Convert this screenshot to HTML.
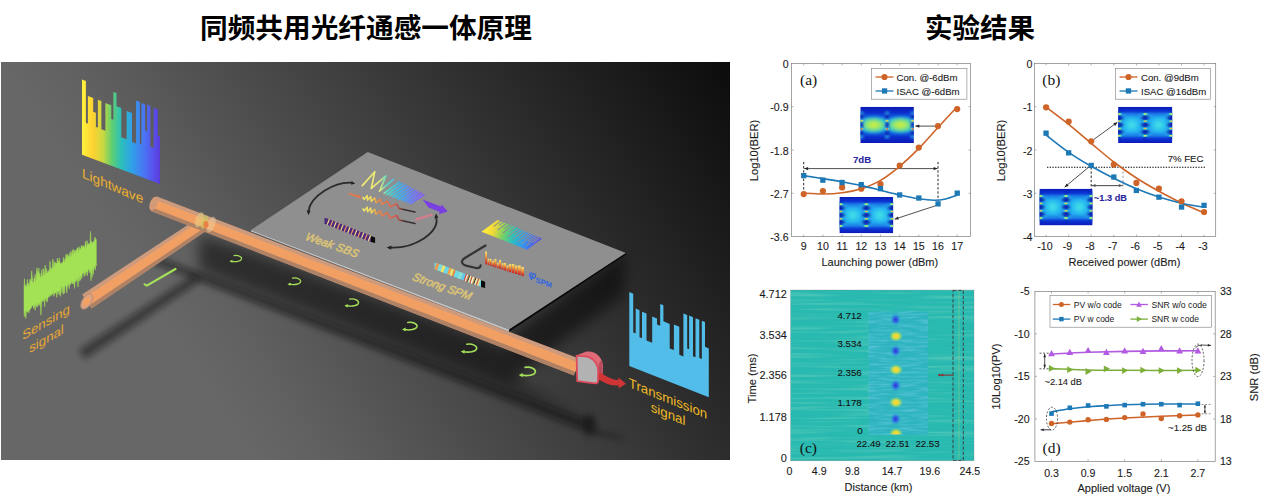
<!DOCTYPE html>
<html><head><meta charset="utf-8"><title>figure</title>
<style>
html,body{margin:0;padding:0;background:#fff;}
body{width:1268px;height:503px;overflow:hidden;position:relative;font-family:"Liberation Sans",sans-serif;}
svg{display:block;position:absolute;left:0;top:0;}
text{font-family:"Liberation Sans",sans-serif;}
.ser{font-family:"Liberation Serif",serif;}
</style></head><body>
<svg width="1268" height="503" viewBox="0 0 1268 503">
<defs>
<clipPath id="clipL"><rect x="1" y="62" width="729" height="398"/></clipPath>
<linearGradient id="bgH" gradientUnits="userSpaceOnUse" x1="110.5" y1="231.5" x2="640.7" y2="-102.6">
<stop offset="0" stop-color="#676767"/><stop offset="0.1" stop-color="#606060"/><stop offset="1" stop-color="#0a0a0a"/></linearGradient>
<linearGradient id="bgV" gradientUnits="userSpaceOnUse" x1="0" y1="62" x2="0" y2="459">
<stop offset="0" stop-color="#000" stop-opacity="0"/><stop offset="0.6" stop-color="#000" stop-opacity="0"/><stop offset="1" stop-color="#000" stop-opacity="0.22"/></linearGradient>
<filter id="blur3" x="-20%" y="-20%" width="140%" height="140%"><feGaussianBlur stdDeviation="3"/></filter>
<filter id="blur5" x="-20%" y="-20%" width="140%" height="140%"><feGaussianBlur stdDeviation="5"/></filter>
<filter id="blur1" x="-20%" y="-20%" width="140%" height="140%"><feGaussianBlur stdDeviation="0.6"/></filter>
<filter id="blur08"><feGaussianBlur stdDeviation="0.4"/></filter>
<linearGradient id="rain" x1="0" y1="0" x2="1" y2="0">
<stop offset="0" stop-color="#fff040"/><stop offset="0.12" stop-color="#ffd030"/><stop offset="0.3" stop-color="#a8d848"/><stop offset="0.42" stop-color="#48d088"/><stop offset="0.55" stop-color="#28b8d0"/><stop offset="0.72" stop-color="#3890f0"/><stop offset="0.88" stop-color="#5060f0"/><stop offset="1" stop-color="#5838d8"/></linearGradient>
<filter id="blur7" x="-20%" y="-30%" width="140%" height="160%"><feGaussianBlur stdDeviation="7"/></filter>
<linearGradient id="chirpG" gradientUnits="userSpaceOnUse" x1="360" y1="0" x2="424" y2="0"><stop offset="0" stop-color="#f4ea70"/><stop offset="0.3" stop-color="#e8e878"/><stop offset="0.42" stop-color="#58d8c8"/><stop offset="0.62" stop-color="#40b0e8"/><stop offset="0.8" stop-color="#6a80f0"/><stop offset="1" stop-color="#8a60e8"/></linearGradient>
<linearGradient id="sm" gradientUnits="userSpaceOnUse" x1="362" y1="0" x2="416" y2="0"><stop offset="0" stop-color="#f4ec70"/><stop offset="0.18" stop-color="#efd858"/><stop offset="0.3" stop-color="#e88848"/><stop offset="0.62" stop-color="#dc5848"/><stop offset="0.7" stop-color="#a04440"/><stop offset="0.78" stop-color="#3a3030"/><stop offset="1" stop-color="#3a3030"/></linearGradient>
<linearGradient id="rainS" gradientUnits="userSpaceOnUse" x1="483" y1="228" x2="541" y2="247"><stop offset="0" stop-color="#fff23c"/><stop offset="0.18" stop-color="#f0d838"/><stop offset="0.36" stop-color="#70d068"/><stop offset="0.52" stop-color="#2cc0c0"/><stop offset="0.7" stop-color="#3498ee"/><stop offset="0.88" stop-color="#5060ee"/><stop offset="1" stop-color="#5a40d8"/></linearGradient>
<linearGradient id="fire" x1="0" y1="0" x2="0" y2="1"><stop offset="0" stop-color="#fae670"/><stop offset="0.35" stop-color="#f4a840"/><stop offset="0.7" stop-color="#e0502c"/><stop offset="1" stop-color="#c02820"/></linearGradient>
<linearGradient id="rainA" gradientUnits="userSpaceOnUse" x1="82" y1="0" x2="160" y2="0"><stop offset="0" stop-color="#fff23c"/><stop offset="0.14" stop-color="#ffd232"/><stop offset="0.27" stop-color="#c8d840"/><stop offset="0.38" stop-color="#62d070"/><stop offset="0.5" stop-color="#2cc0b8"/><stop offset="0.64" stop-color="#30a0e8"/><stop offset="0.8" stop-color="#4a74f4"/><stop offset="0.92" stop-color="#5850ec"/><stop offset="1" stop-color="#5a3cd8"/></linearGradient>
<filter id="eb" x="-5%" y="-5%" width="110%" height="110%"><feGaussianBlur stdDeviation="1.1"/></filter>
<radialGradient id="eyeC"><stop offset="0" stop-color="#48e4e4" stop-opacity="1"/><stop offset="0.55" stop-color="#28c0f0" stop-opacity="0.8"/><stop offset="1" stop-color="#1c90f0" stop-opacity="0"/></radialGradient>
<radialGradient id="eyeN"><stop offset="0" stop-color="#d8f040" stop-opacity="1"/><stop offset="0.45" stop-color="#60e0a0" stop-opacity="0.95"/><stop offset="0.8" stop-color="#20c0e0" stop-opacity="0.8"/><stop offset="1" stop-color="#1890e8" stop-opacity="0"/></radialGradient>
<linearGradient id="eyeBg" x1="0" y1="0" x2="0" y2="1"><stop offset="0" stop-color="#0a1ab6"/><stop offset="0.12" stop-color="#0c34d4"/><stop offset="0.3" stop-color="#1470ea"/><stop offset="0.5" stop-color="#1c90f0"/><stop offset="0.7" stop-color="#1470ea"/><stop offset="0.88" stop-color="#0c34d4"/><stop offset="1" stop-color="#0a1ab6"/></linearGradient>
<linearGradient id="eyeBgN" x1="0" y1="0" x2="0" y2="1"><stop offset="0" stop-color="#0a1cb8"/><stop offset="0.22" stop-color="#0c48e0"/><stop offset="0.38" stop-color="#20b0e0"/><stop offset="0.5" stop-color="#38d0c8"/><stop offset="0.62" stop-color="#20b0e0"/><stop offset="0.78" stop-color="#0c48e0"/><stop offset="1" stop-color="#0a1cb8"/></linearGradient>
<linearGradient id="eyeBgN2" x1="0" y1="0" x2="0" y2="1"><stop offset="0" stop-color="#0a1ab4"/><stop offset="0.16" stop-color="#0b2ccc"/><stop offset="0.3" stop-color="#1268e4"/><stop offset="0.4" stop-color="#22b4e0"/><stop offset="0.5" stop-color="#58dcb0"/><stop offset="0.6" stop-color="#22b4e0"/><stop offset="0.7" stop-color="#1268e4"/><stop offset="0.84" stop-color="#0b2ccc"/><stop offset="1" stop-color="#0a1ab4"/></linearGradient>
<radialGradient id="eyeN2"><stop offset="0" stop-color="#d4ee3c"/><stop offset="0.4" stop-color="#9ce868" stop-opacity="0.95"/><stop offset="0.75" stop-color="#48d8b8" stop-opacity="0.7"/><stop offset="1" stop-color="#28b8e0" stop-opacity="0"/></radialGradient>
<clipPath id="ec1"><rect x="860.3" y="106.8" width="53.6" height="36.3"/></clipPath>
<clipPath id="ec2"><rect x="839.4" y="197" width="53.8" height="36.3"/></clipPath>
<clipPath id="ec3"><rect x="1118.1" y="106.8" width="54.2" height="36.3"/></clipPath>
<clipPath id="ec4"><rect x="1039.4" y="188.7" width="53.2" height="36.7"/></clipPath>
<filter id="streak" x="0" y="0" width="100%" height="100%"><feTurbulence type="fractalNoise" baseFrequency="0.012 0.35" numOctaves="2" seed="4" result="n"/><feColorMatrix in="n" type="matrix" values="0 0 0 0 0.42  0 0 0 0 0.80  0 0 0 0 0.62  0.75 0 0 0 -0.35"/></filter>
<filter id="wav" x="0" y="0" width="100%" height="100%"><feTurbulence type="fractalNoise" baseFrequency="0.05 0.5" numOctaves="2" seed="9" result="n"/><feColorMatrix in="n" type="matrix" values="0 0 0 0 0.2  0 0 0 0 0.62  0 0 0 0 0.86  1.4 0 0 0 -0.55"/></filter>
<radialGradient id="blobB"><stop offset="0" stop-color="#3a30d0"/><stop offset="0.4" stop-color="#2c60e8" stop-opacity="0.9"/><stop offset="1" stop-color="#2ea0d8" stop-opacity="0"/></radialGradient>
<radialGradient id="blobY"><stop offset="0" stop-color="#fcd030"/><stop offset="0.35" stop-color="#f0e038" stop-opacity="0.95"/><stop offset="0.7" stop-color="#b0dc58" stop-opacity="0.6"/><stop offset="1" stop-color="#70d090" stop-opacity="0"/></radialGradient>
<clipPath id="insC"><rect x="868.9" y="311.6" width="59.1" height="123"/></clipPath>
</defs>
<text x="200" y="38" font-size="27.5" font-weight="bold" fill="#000" textLength="332" lengthAdjust="spacingAndGlyphs" style="font-family:'Liberation Sans','Noto Sans CJK SC',sans-serif;">同频共用光纤通感一体原理</text>
<text x="925" y="38" font-size="27.5" font-weight="bold" fill="#000" textLength="110" lengthAdjust="spacingAndGlyphs" style="font-family:'Liberation Sans','Noto Sans CJK SC',sans-serif;">实验结果</text>
<g clip-path="url(#clipL)">
<rect x="0" y="60" width="732" height="401" fill="url(#bgH)"/>
<g filter="url(#blur7)" opacity="0.5">
<polygon points="199,235.1 251,251.2 509.2,349 515.2,331.6 626,253 623,295 513.2,379.6 588,420 199,271.1" fill="#000"/>
</g>
<g filter="url(#blur3)" opacity="0.55">
<polygon points="148.3,260.9 581.2,428.9 584.8,419.5 150.9,254.3" fill="#0c0c0c"/>
</g>
<g filter="url(#blur3)" opacity="0.5">
<polygon points="195.1,273.7 78.8,349.9 84.8,359.1 200.1,281.2" fill="#0c0c0c"/>
<ellipse cx="589" cy="425" rx="7" ry="10.5" fill="#000"/>
<ellipse cx="589" cy="425" rx="6" ry="9" fill="#000"/>
<ellipse cx="589" cy="425" rx="4.5" ry="7" fill="#000"/>
<polygon points="590,429 624,437.5 624,439.5 590,433" fill="#000"/>
</g>
<path d="M175.5,269 L146.8,285.6 l-2.2,-1.2" fill="none" stroke="#a6e05a" stroke-width="2.2" stroke-linecap="round" stroke-linejoin="round"/>
<g transform="translate(235.5,258.7) scale(0.7)"><path d="M-2,-4.4 C4,-5.4 9.5,-2.6 8.6,0.6 C7.6,3.8 0.5,4.8 -6,3.7" fill="none" stroke="#a6e05a" stroke-width="1.7" stroke-linecap="round"/><path d="M-8.6,3.6 L-4.4,1.5 L-4.6,5.8 Z" fill="#a6e05a"/></g>
<g transform="translate(294,281.4) scale(0.76)"><path d="M-2,-4.4 C4,-5.4 9.5,-2.6 8.6,0.6 C7.6,3.8 0.5,4.8 -6,3.7" fill="none" stroke="#a6e05a" stroke-width="1.7" stroke-linecap="round"/><path d="M-8.6,3.6 L-4.4,1.5 L-4.6,5.8 Z" fill="#a6e05a"/></g>
<g transform="translate(351.4,302.7) scale(0.82)"><path d="M-2,-4.4 C4,-5.4 9.5,-2.6 8.6,0.6 C7.6,3.8 0.5,4.8 -6,3.7" fill="none" stroke="#a6e05a" stroke-width="1.7" stroke-linecap="round"/><path d="M-8.6,3.6 L-4.4,1.5 L-4.6,5.8 Z" fill="#a6e05a"/></g>
<g transform="translate(409.5,326.3) scale(0.87)"><path d="M-2,-4.4 C4,-5.4 9.5,-2.6 8.6,0.6 C7.6,3.8 0.5,4.8 -6,3.7" fill="none" stroke="#a6e05a" stroke-width="1.7" stroke-linecap="round"/><path d="M-8.6,3.6 L-4.4,1.5 L-4.6,5.8 Z" fill="#a6e05a"/></g>
<g transform="translate(468.7,348.3) scale(0.92)"><path d="M-2,-4.4 C4,-5.4 9.5,-2.6 8.6,0.6 C7.6,3.8 0.5,4.8 -6,3.7" fill="none" stroke="#a6e05a" stroke-width="1.7" stroke-linecap="round"/><path d="M-8.6,3.6 L-4.4,1.5 L-4.6,5.8 Z" fill="#a6e05a"/></g>
<g transform="translate(527,371.6) scale(0.96)"><path d="M-2,-4.4 C4,-5.4 9.5,-2.6 8.6,0.6 C7.6,3.8 0.5,4.8 -6,3.7" fill="none" stroke="#a6e05a" stroke-width="1.7" stroke-linecap="round"/><path d="M-8.6,3.6 L-4.4,1.5 L-4.6,5.8 Z" fill="#a6e05a"/></g>
<polygon points="199.4,217.2 82.1,294.4 91.5,308.6 207.8,229.7" fill="#cc9a7c"/>
<polygon points="205.4,226.2 88.9,304.6 91.5,308.6 207.8,229.6" fill="#a87c60" opacity="0.8"/>
<polygon points="201.3,220.1 84.2,297.7 89.4,305.3 205.9,226.8" fill="#f29f64"/>
<ellipse cx="86.8" cy="301.5" rx="4.6" ry="8.6" transform="rotate(33 86.8 301.5)" fill="#dba282" stroke="#b98a70" stroke-width="0.8"/>
<ellipse cx="86.8" cy="301.5" rx="2.6" ry="4.8" transform="rotate(33 86.8 301.5)" fill="#f6a062"/>
<polygon points="150.8,210.9 573.8,375.5 580.2,358.9 156.4,196.3" fill="#cc9a7c"/>
<polygon points="150.8,210.9 573.8,375.5 575.6,370.9 152.4,206.8" fill="#a87c60" opacity="0.8"/>
<polygon points="152.1,207.5 575.3,371.7 578.7,362.7 155.1,199.7" fill="#f29f64"/>
<ellipse cx="153.6" cy="203.6" rx="3.6" ry="7.3" transform="rotate(21 153.6 203.6)" fill="#d49a78"/>
<g opacity="0.8">
<ellipse cx="199.5" cy="219.8" rx="4" ry="8" transform="rotate(21 199.5 219.8)" fill="#e8e08a" opacity="0.55"/>
<ellipse cx="211" cy="224.5" rx="4" ry="8.2" transform="rotate(21 211 224.5)" fill="#f0d8a8" opacity="0.55"/>
<ellipse cx="204.5" cy="222" rx="3.4" ry="7" transform="rotate(21 204.5 222)" fill="#c8d860" opacity="0.6"/>
<ellipse cx="206" cy="224.5" rx="2.5" ry="3.6" fill="#e86838" opacity="0.8"/>
</g>
<polygon points="367.7,152 626,253 509.2,329.6 251,230" fill="#8f8f8f"/>
<polygon points="251,230 509.2,329.6 509.2,331.8 251,231.4" fill="#c2c2c2"/>
<polygon points="509.2,329.6 626,253 626,254.6 509.2,331.8" fill="#0a0a0a"/>
<path d="M352,182.8 C335,181.5 310,196 308.5,211.5" fill="none" stroke="#2a2a2a" stroke-width="1.8"/>
<path d="M351.5,180.9 L355.2,183.6 L351.2,184.8 Z" fill="#222"/><path d="M306.6,210.5 L308.4,215.2 L310.6,210.8 Z" fill="#222"/>
<path d="M436,217 C441,232 414,249 390,247.6" fill="none" stroke="#2a2a2a" stroke-width="1.8"/>
<path d="M434.3,218.3 L436,213.6 L438.4,217.6 Z" fill="#222"/><path d="M391.5,245.6 L386.5,247.4 L391.2,249.8 Z" fill="#222"/>
<polyline points="362.3,185.6 374.8,171.7 371.3,188.4 385.9,175.9 379.6,191.2 393.5,179.4" fill="none" stroke="url(#chirpG)" stroke-width="1.7" stroke-linejoin="round" stroke-linecap="round"/>
<line x1="384.2" y1="193.3" x2="399.4" y2="182.1" stroke="url(#chirpG)" stroke-width="1.8" stroke-linecap="round"/>
<line x1="387.1" y1="194.4" x2="402.1" y2="183.5" stroke="url(#chirpG)" stroke-width="1.9" stroke-linecap="round"/>
<line x1="390.1" y1="195.5" x2="404.8" y2="184.9" stroke="url(#chirpG)" stroke-width="1.9" stroke-linecap="round"/>
<line x1="393.1" y1="196.7" x2="407.5" y2="186.4" stroke="url(#chirpG)" stroke-width="2" stroke-linecap="round"/>
<line x1="396" y1="197.8" x2="410.2" y2="187.8" stroke="url(#chirpG)" stroke-width="2" stroke-linecap="round"/>
<line x1="398.9" y1="198.9" x2="412.9" y2="189.2" stroke="url(#chirpG)" stroke-width="2.1" stroke-linecap="round"/>
<line x1="401.9" y1="200" x2="415.6" y2="190.6" stroke="url(#chirpG)" stroke-width="2.2" stroke-linecap="round"/>
<line x1="404.8" y1="201.1" x2="418.3" y2="192" stroke="url(#chirpG)" stroke-width="2.2" stroke-linecap="round"/>
<line x1="407.8" y1="202.3" x2="421" y2="193.5" stroke="url(#chirpG)" stroke-width="2.3" stroke-linecap="round"/>
<line x1="410.8" y1="203.4" x2="423.7" y2="194.9" stroke="url(#chirpG)" stroke-width="2.3" stroke-linecap="round"/>
<path d="M349,193.2 L361.5,198.6 L360,195.6 Z" fill="#e07a50"/><path d="M349,193.6 L360.5,197.8" stroke="#e07a50" stroke-width="1.6" fill="none" stroke-linecap="round"/>
<polyline points="363,197.3 364.2,199.4 367.2,195.6 367.5,200.3 370.7,196.6 371.3,201.4 374.9,197.8 376,202.7 380.2,199.3 382,204.4 387.2,201.2 390.2,206.7 396.6,203.9 399.1,208.5 415,212" fill="none" stroke="url(#sm)" stroke-width="1.5" stroke-linejoin="round" stroke-linecap="round"/>
<polyline points="363,208.8 364.2,210.9 367.2,207.1 367.5,211.8 370.7,208.1 371.3,212.9 374.9,209.3 376,214.2 380.2,210.8 382,215.9 387.2,212.7 390.2,218.2 396.6,215.4 399.1,220 415,223.5" fill="none" stroke="url(#sm)" stroke-width="1.5" stroke-linejoin="round" stroke-linecap="round"/>
<path d="M422.6,199.6 L441,206.6 L441.8,204.6 L447.6,211.6 L439,214.2 L439.6,211.8 L428.5,207.6 Z" fill="#7a3fe0"/>
<path d="M416.5,219.4 L431.5,214.8" stroke="#e07a8c" stroke-width="2.4" fill="none" stroke-linecap="round" opacity="0.85"/>
<polygon points="324.5,217.8 371.5,236.3 371.5,241.9 324.5,223.4" fill="#4b2b7c"/>
<polygon points="326.6,218.2 328.8,219 326.6,224.6 324.4,223.8" fill="#4b2b7c"/>
<polygon points="328.8,219 330.1,219.5 327.9,225.1 326.6,224.6" fill="#f2d488"/>
<polygon points="330.1,219.5 332.2,220.4 330,226 327.9,225.1" fill="#4b2b7c"/>
<polygon points="332.2,220.4 333.5,220.9 331.3,226.5 330,226" fill="#ec9a6a"/>
<polygon points="333.5,220.9 335.6,221.7 333.4,227.3 331.3,226.5" fill="#4b2b7c"/>
<polygon points="335.6,221.7 336.9,222.2 334.7,227.8 333.4,227.3" fill="#f2d488"/>
<polygon points="336.9,222.2 339,223.1 336.8,228.7 334.7,227.8" fill="#4b2b7c"/>
<polygon points="339,223.1 340.4,223.6 338.2,229.2 336.8,228.7" fill="#ec9a6a"/>
<polygon points="340.4,223.6 342.5,224.4 340.3,230 338.2,229.2" fill="#4b2b7c"/>
<polygon points="342.5,224.4 343.8,224.9 341.6,230.5 340.3,230" fill="#f2d488"/>
<polygon points="343.8,224.9 345.9,225.8 343.7,231.4 341.6,230.5" fill="#4b2b7c"/>
<polygon points="345.9,225.8 347.2,226.3 345,231.9 343.7,231.4" fill="#ec9a6a"/>
<polygon points="347.2,226.3 349.3,227.1 347.1,232.7 345,231.9" fill="#4b2b7c"/>
<polygon points="349.3,227.1 350.7,227.6 348.5,233.2 347.1,232.7" fill="#f2d488"/>
<polygon points="350.7,227.6 352.8,228.5 350.6,234.1 348.5,233.2" fill="#4b2b7c"/>
<polygon points="352.8,228.5 354.1,229 351.9,234.6 350.6,234.1" fill="#ec9a6a"/>
<polygon points="354.1,229 356.2,229.8 354,235.4 351.9,234.6" fill="#4b2b7c"/>
<polygon points="356.2,229.8 357.5,230.3 355.3,235.9 354,235.4" fill="#f2d488"/>
<polygon points="357.5,230.3 359.6,231.2 357.4,236.8 355.3,235.9" fill="#4b2b7c"/>
<polygon points="359.6,231.2 360.9,231.7 358.8,237.3 357.4,236.8" fill="#ec9a6a"/>
<polygon points="360.9,231.7 363.1,232.5 360.9,238.1 358.8,237.3" fill="#4b2b7c"/>
<polygon points="363.1,232.5 364.4,233 362.2,238.6 360.9,238.1" fill="#f2d488"/>
<polygon points="364.4,233 366.5,233.9 364.3,239.5 362.2,238.6" fill="#4b2b7c"/>
<polygon points="366.5,233.9 367.8,234.4 365.6,240 364.3,239.5" fill="#ec9a6a"/>
<polygon points="367.8,234.4 369.9,235.2 367.7,240.8 365.6,240" fill="#4b2b7c"/>
<polygon points="369.9,235.2 371.2,235.7 369,241.3 367.7,240.8" fill="#f2d488"/>
<polygon points="371,236.1 375.1,237.6 375.1,243.1 371,241.9" fill="#0a0a0a"/>
<polygon points="434.5,262.5 481.5,280.5 481.5,286.9 434.5,268.9" fill="#70d8e0"/>
<polygon points="436.6,262.9 439.5,263.9 437.3,270.3 434.4,269.3" fill="#e89a50"/>
<polygon points="439.5,263.9 442.8,265.2 440.6,271.6 437.3,270.3" fill="#7cdcdc"/>
<polygon points="442.8,265.2 445.6,266.3 443.4,272.7 440.6,271.6" fill="#f2e468"/>
<polygon points="445.6,266.3 449.3,267.7 447.1,274.1 443.4,272.7" fill="#6cd4e4"/>
<polygon points="449.3,267.7 451.7,268.6 449.5,275 447.1,274.1" fill="#f0a446"/>
<polygon points="451.7,268.6 454,269.5 451.8,275.9 449.5,275" fill="#f4e070"/>
<polygon points="454,269.5 455.9,270.2 453.7,276.6 451.8,275.9" fill="#e88a40"/>
<polygon points="455.9,270.2 460.1,271.9 457.9,278.3 453.7,276.6" fill="#70d8e0"/>
<polygon points="460.1,271.9 463,272.9 460.8,279.3 457.9,278.3" fill="#8ce0d0"/>
<polygon points="463,272.9 465.8,274 463.6,280.4 460.8,279.3" fill="#64c8ec"/>
<polygon points="465.8,274 467,274.5 464.8,280.9 463.6,280.4" fill="#d84830"/>
<polygon points="467,274.5 468.1,274.9 465.9,281.3 464.8,280.9" fill="#f4f0d8"/>
<polygon points="468.1,274.9 469.3,275.4 467.1,281.8 465.9,281.3" fill="#e87038"/>
<polygon points="469.3,275.4 470.2,275.7 468,282.1 467.1,281.8" fill="#303030"/>
<polygon points="470.2,275.7 471.7,276.3 469.5,282.7 468,282.1" fill="#f6eca0"/>
<polygon points="471.7,276.3 472.8,276.7 470.6,283.1 469.5,282.7" fill="#d04028"/>
<polygon points="472.8,276.7 474.2,277.3 472,283.7 470.6,283.1" fill="#f8f4e0"/>
<polygon points="474.2,277.3 475.4,277.7 473.2,284.1 472,283.7" fill="#e8a040"/>
<polygon points="475.4,277.7 476.4,278.1 474.2,284.5 473.2,284.1" fill="#2a2a2a"/>
<polygon points="476.4,278.1 478,278.7 475.8,285.1 474.2,284.5" fill="#f4e8a8"/>
<polygon points="478,278.7 479.2,279.1 477,285.5 475.8,285.1" fill="#d85030"/>
<polygon points="479.2,279.1 480.6,279.7 478.4,286.1 477,285.5" fill="#f0d890"/>
<polygon points="481,280.3 485.1,281.8 485.1,288.1 481,286.9" fill="#0a0a0a"/>
<text transform="matrix(0.94,0.33,-0.42,0.9,304.6,239.4)" font-size="11.5" font-style="italic" fill="#dcc476" stroke="#dcc476" stroke-width="0.5">Weak SBS</text>
<text transform="matrix(0.94,0.33,-0.42,0.9,411.6,279.8)" font-size="11.5" font-style="italic" fill="#dcc476" stroke="#dcc476" stroke-width="0.5">Strong SPM</text>
<polygon points="481.5,231.8 497.4,219.9 500.1,220.9 492.9,226.3 494,226.7 501.1,221.4 502.8,222 498.8,225 499.9,225.4 503.9,222.4 506,223.3 497.2,229.8 498.3,230.2 507.1,223.7 509.2,224.5 503.6,228.7 504.7,229.1 510.3,224.9 511.9,225.6 502.4,232.7 503.5,233.2 513,226 515.1,226.8 508.8,231.6 509.9,232 516.2,227.3 518.3,228.1 507.2,236.4 508.3,236.9 519.4,228.5 520.4,229.6 513.9,234.5 515,235 521.5,230.1 523.2,230.7 511.9,239.2 513,239.6 524.3,231.2 525.9,231.8 518.6,237.3 519.7,237.7 527,232.2 528.7,232.9 516.9,241.7 518,242.1 529.8,233.3 530.9,233.8 523.6,239.2 524.7,239.7 532,234.2 533.2,234.7 521.1,243.7 522.2,244.1 534.3,235.1 535.5,235.6 527.4,241.6 528.5,242.1 536.6,236 537.6,236.4 525.5,245.4 526.6,245.8 538.7,236.8 539.6,237.2 532.3,242.6 533.4,243.1 540.7,237.6 542,238.6 527.2,249.7" fill="url(#rainS)" filter="url(#blur08)"/>
<path d="M485.5,245.5 L464.5,258.2 C460,261 462,264.5 466,265.6 L476,268 C479,268.6 480.5,267 480.6,265.4" fill="none" stroke="#333" stroke-width="2.2" stroke-linecap="round"/>
<rect x="485.2" y="251.4" width="1.8" height="13" fill="url(#fire)"/>
<rect x="487.6" y="258.7" width="1.8" height="6.5" fill="url(#fire)"/>
<rect x="489.9" y="258.9" width="1.6" height="7" fill="url(#fire)"/>
<rect x="492.1" y="260.6" width="1.8" height="6" fill="url(#fire)"/>
<rect x="494.4" y="258.9" width="2" height="8.5" fill="url(#fire)"/>
<rect x="497" y="262.7" width="1.6" height="5.5" fill="url(#fire)"/>
<rect x="499.1" y="259.9" width="2" height="9" fill="url(#fire)"/>
<rect x="501.7" y="263.2" width="1.8" height="6.5" fill="url(#fire)"/>
<rect x="504" y="263" width="2" height="7.5" fill="url(#fire)"/>
<rect x="506.6" y="265.3" width="1.8" height="6" fill="url(#fire)"/>
<rect x="508.9" y="264.1" width="2.2" height="8" fill="url(#fire)"/>
<rect x="511.7" y="264" width="2.6" height="9" fill="url(#fire)"/>
<rect x="514.8" y="265.5" width="2.6" height="8.5" fill="url(#fire)"/>
<rect x="518" y="265.5" width="2.8" height="9.5" fill="url(#fire)"/>
<rect x="521.3" y="267.1" width="2.6" height="9" fill="url(#fire)"/>
<text transform="matrix(1,0.36,-0.15,1,528.2,277)" font-size="10.5" font-weight="bold" font-style="italic" fill="#2f66e0">φ<tspan font-size="7.5" dy="2.5" font-style="normal">SPM</tspan></text>
<polygon points="82,154.8 82,79.6 85.9,81 85.9,122.9 87.9,123.6 87.9,95.9 93.2,97.9 93.2,111.8 95.9,112.8 95.9,126.9 97.9,127.6 97.9,99.8 101.4,101.1 101.4,129.2 105.4,130.7 105.4,103 111.3,105.2 111.3,118.9 113.4,119.7 113.4,91.9 116.5,93 116.5,106.2 121.3,108 121.3,137.2 126.6,139.2 126.6,111 132,113 132,142 136.1,143.5 136.1,100.6 139.9,102 139.9,143.5 141.5,144.1 141.5,103 145.2,104.4 145.2,130.8 147.2,131.5 147.2,104.6 150.4,105.8 150.4,146.7 153.6,147.9 153.6,107.8 157.9,109.4 157.9,135.6 160,136.4 160,184" fill="url(#rainA)" filter="url(#blur08)"/>
<polygon points="24,288.4 24.5,278.7 25,287.2 25.4,286.4 25.9,284.5 26.4,287.3 26.9,286.5 27.4,279.3 27.9,285.1 28.3,283.2 28.8,286.1 29.3,285.5 29.8,279.5 30.3,279.3 30.7,282.4 31.2,280.6 31.7,270.8 32.2,276.3 32.7,283.3 33.2,282.3 33.6,283 34.1,277.7 34.6,280.2 35.1,274.3 35.6,281.5 36,281.5 36.5,271.7 37,267.7 37.5,275.2 38,271.1 38.5,273.9 38.9,268 39.4,277.4 39.9,273.1 40.4,276.8 40.9,277.6 41.4,275.7 41.8,269.4 42.3,275.6 42.8,276.3 43.3,268.5 43.8,276.2 44.2,275.1 44.7,272 45.2,265 45.7,274.7 46.2,268.3 46.7,273.9 47.1,272.7 47.6,272.9 48.1,270.1 48.6,272.1 49.1,272 49.5,270.4 50,261.1 50.5,267.8 51,270.8 51.5,268.5 52,267.6 52.4,267 52.9,259.1 53.4,262.5 53.9,268.8 54.4,262.4 54.8,269 55.3,262.1 55.8,264.6 56.3,263.1 56.8,265 57.3,258.1 57.7,263.8 58.2,261.2 58.7,262.7 59.2,258 59.7,261.9 60.1,263.1 60.6,264 61.1,264.1 61.6,263 62.1,262.3 62.6,263.6 63,262.2 63.5,257.4 64,261.5 64.5,262.1 65,258.6 65.5,261.7 65.9,254.7 66.4,258.9 66.9,254.1 67.4,258.1 67.9,254.3 68.3,257.9 68.8,255.9 69.3,256.6 69.8,252.9 70.3,251.8 70.8,257.8 71.2,255.6 71.7,252.6 72.2,250.2 72.7,254.4 73.2,249.2 73.6,255.9 74.1,252.6 74.6,250.3 75.1,254.8 75.6,250.5 76.1,250 76.5,252.1 77,248.6 77.5,247.7 78,249.2 78.5,253.3 78.9,246.7 79.4,252 79.9,247.5 80.4,249.2 80.9,249.6 81.4,245.3 81.8,248.1 82.3,246.1 82.8,248.3 83.3,245.5 83.8,246.7 84.2,248.1 84.7,247 85.2,243.9 85.7,241.1 86.2,247.5 86.7,247.8 87.1,240.6 87.6,246.3 88.1,243.6 88.6,244.8 89.1,243.4 89.6,244.5 90,243.4 90.5,231.3 91,244.9 91.5,241.4 92,243.6 92.4,242.4 92.9,242.2 93.4,241.7 93.9,241.3 94.4,240.2 94.9,237.2 95.3,238.1 95.8,239.7 96.3,239.6 96.3,265.7 95.8,264.3 95.3,269.9 94.9,269 94.4,266.4 93.9,267.2 93.4,274.4 92.9,268.1 92.4,271.1 92,277.8 91.5,270 91,280.7 90.5,269.3 90,273.1 89.6,271.7 89.1,269.5 88.6,269.1 88.1,270.9 87.6,273.1 87.1,276 86.7,270 86.2,272.3 85.7,270.5 85.2,275 84.7,271.7 84.2,276.7 83.8,272.7 83.3,272.5 82.8,274 82.3,273.1 81.8,278.6 81.4,278.3 80.9,274.6 80.4,280.4 79.9,274.9 79.4,281.2 78.9,277.5 78.5,280.1 78,287.1 77.5,280.6 77,278.9 76.5,281.3 76.1,277.4 75.6,281.9 75.1,278.3 74.6,288.4 74.1,283.5 73.6,283.8 73.2,280.8 72.7,284 72.2,282.8 71.7,280.4 71.2,283.6 70.8,283.2 70.3,284.5 69.8,283.7 69.3,288.8 68.8,281.8 68.3,285.3 67.9,286.8 67.4,283.2 66.9,293 66.4,289.6 65.9,284.8 65.5,285.7 65,285 64.5,293.3 64,285.2 63.5,294.4 63,288.1 62.6,287.6 62.1,293.2 61.6,286.2 61.1,286.7 60.6,296.4 60.1,290.8 59.7,290.2 59.2,295 58.7,293.4 58.2,291 57.7,291.7 57.3,292.6 56.8,297.4 56.3,291 55.8,293.1 55.3,292.8 54.8,293.8 54.4,293.3 53.9,296.4 53.4,291.6 52.9,292.7 52.4,294.5 52,294.4 51.5,294.3 51,296.1 50.5,295.1 50,294.6 49.5,297.2 49.1,296.4 48.6,296.4 48.1,297.4 47.6,298.8 47.1,302.3 46.7,297.5 46.2,300.8 45.7,299.2 45.2,297.5 44.7,306.9 44.2,297.5 43.8,300.7 43.3,298.7 42.8,302 42.3,300.5 41.8,300 41.4,305.8 40.9,315.2 40.4,300 39.9,305.9 39.4,303 38.9,303.2 38.5,304.4 38,305 37.5,307.1 37,306.3 36.5,306.6 36,303 35.6,306 35.1,310.3 34.6,306.2 34.1,305.6 33.6,308.4 33.2,305.5 32.7,305.6 32.2,305.5 31.7,306.5 31.2,308 30.7,308.7 30.3,307.9 29.8,310.2 29.3,310.5 28.8,312.9 28.3,308.7 27.9,312 27.4,312.1 26.9,311 26.4,311.2 25.9,318.6 25.4,311.7 25,310.7 24.5,316.8 24,312.6" fill="#a3e255" stroke="#a3e255" stroke-width="0.5" stroke-linejoin="round"/>
<polygon points="629.3,365.9 629.3,292.1 633.2,293.7 633.2,332.5 635.7,333.5 635.7,308.6 639.5,310.2 639.5,337.3 642,338.3 642,311.8 646.5,313.6 646.5,340.4 652.2,342.7 652.2,316.6 657,318.6 657,324.5 660.2,325.8 660.2,303.9 663.4,305.2 663.4,321.3 669.7,323.9 669.7,348.4 673.9,350.1 673.9,324.5 679.3,326.7 679.3,354.7 683.4,356.4 683.4,313.4 687.2,315 687.2,348.4 689.1,349.2 689.1,315.6 693,317.2 693,356.3 695.5,357.3 695.5,318.2 699.3,319.8 699.3,357.9 701.8,358.9 701.8,320.7 705,322 705,346.8 708.8,348.4 708.8,397.2" fill="#52bdea" filter="url(#blur08)"/>
<g>
<path d="M578.5,354.6 L586.5,351.6 C596.5,350.6 603,358.5 603,367 L602.6,375 L596.5,383.2 Z" fill="#e06a78"/>
<path d="M598.4,366 C599.5,362 600.8,360 602.2,361.5 L602.6,375 L597.6,382.6 Z" fill="#b84a5a"/>
<path d="M576.6,355.6 L585.5,356.4 C593.5,357.6 598.4,364 598.2,372 L598,381 Q597.8,383.6 595,383.4 L577.2,381.2 Z" fill="#b2b2b2" stroke="#de4a5c" stroke-width="1.8" stroke-linejoin="round"/>
<path d="M599,372.6 C605,374.5 611,380.5 618.6,380 L618.2,377.2 L626,383.8 L618.6,388.6 L618.8,385.4 C610,386.6 604.5,382.5 598.6,379.6 Z" fill="#d03434"/>
</g>
<text transform="matrix(1,0.43,0,1,82,177.5)" font-size="13.6" fill="#eeb02e">Lightwave</text>
<g transform="matrix(1,-0.585,0,1,46,326.5)" font-size="13.2" fill="#eaa834" text-anchor="middle"><text x="0" y="0">Sensing</text><text x="0.5" y="17">signal</text></g>
<g transform="matrix(1,0.41,0,1,668,403)" font-size="13.3" fill="#f2bc24" text-anchor="middle"><text x="0" y="0">Transmission</text><text x="0" y="15.5">signal</text></g>
</g>
<rect x="791.6" y="63.4" width="179" height="173.2" fill="#fff" stroke="#7d7d7d" stroke-width="0.7"/>
<path d="M803.7,236.6 v-2 M803.7,63.4 v2" stroke="#7d7d7d" stroke-width="0.6"/>
<path d="M822.9,236.6 v-2 M822.9,63.4 v2" stroke="#7d7d7d" stroke-width="0.6"/>
<path d="M842.1,236.6 v-2 M842.1,63.4 v2" stroke="#7d7d7d" stroke-width="0.6"/>
<path d="M861.3,236.6 v-2 M861.3,63.4 v2" stroke="#7d7d7d" stroke-width="0.6"/>
<path d="M880.5,236.6 v-2 M880.5,63.4 v2" stroke="#7d7d7d" stroke-width="0.6"/>
<path d="M899.7,236.6 v-2 M899.7,63.4 v2" stroke="#7d7d7d" stroke-width="0.6"/>
<path d="M918.8,236.6 v-2 M918.8,63.4 v2" stroke="#7d7d7d" stroke-width="0.6"/>
<path d="M938,236.6 v-2 M938,63.4 v2" stroke="#7d7d7d" stroke-width="0.6"/>
<path d="M957.2,236.6 v-2 M957.2,63.4 v2" stroke="#7d7d7d" stroke-width="0.6"/>
<path d="M791.6,106.7 h2 M970.6,106.7 h-2" stroke="#7d7d7d" stroke-width="0.6"/>
<path d="M791.6,150 h2 M970.6,150 h-2" stroke="#7d7d7d" stroke-width="0.6"/>
<path d="M791.6,193.3 h2 M970.6,193.3 h-2" stroke="#7d7d7d" stroke-width="0.6"/>
<text x="803.7" y="249.6" font-size="10.6" text-anchor="middle" fill="#1a1a1a" stroke="#1a1a1a" stroke-width="0.1" >9</text>
<text x="822.9" y="249.6" font-size="10.6" text-anchor="middle" fill="#1a1a1a" stroke="#1a1a1a" stroke-width="0.1" >10</text>
<text x="842.1" y="249.6" font-size="10.6" text-anchor="middle" fill="#1a1a1a" stroke="#1a1a1a" stroke-width="0.1" >11</text>
<text x="861.3" y="249.6" font-size="10.6" text-anchor="middle" fill="#1a1a1a" stroke="#1a1a1a" stroke-width="0.1" >12</text>
<text x="880.5" y="249.6" font-size="10.6" text-anchor="middle" fill="#1a1a1a" stroke="#1a1a1a" stroke-width="0.1" >13</text>
<text x="899.7" y="249.6" font-size="10.6" text-anchor="middle" fill="#1a1a1a" stroke="#1a1a1a" stroke-width="0.1" >14</text>
<text x="918.8" y="249.6" font-size="10.6" text-anchor="middle" fill="#1a1a1a" stroke="#1a1a1a" stroke-width="0.1" >15</text>
<text x="938" y="249.6" font-size="10.6" text-anchor="middle" fill="#1a1a1a" stroke="#1a1a1a" stroke-width="0.1" >16</text>
<text x="957.2" y="249.6" font-size="10.6" text-anchor="middle" fill="#1a1a1a" stroke="#1a1a1a" stroke-width="0.1" >17</text>
<text x="788.6" y="67.9" font-size="10.6" text-anchor="end" fill="#1a1a1a" stroke="#1a1a1a" stroke-width="0.1" >0</text>
<text x="788.6" y="111.2" font-size="10.6" text-anchor="end" fill="#1a1a1a" stroke="#1a1a1a" stroke-width="0.1" >-0.9</text>
<text x="788.6" y="154.5" font-size="10.6" text-anchor="end" fill="#1a1a1a" stroke="#1a1a1a" stroke-width="0.1" >-1.8</text>
<text x="788.6" y="197.8" font-size="10.6" text-anchor="end" fill="#1a1a1a" stroke="#1a1a1a" stroke-width="0.1" >-2.7</text>
<text x="788.6" y="241.1" font-size="10.6" text-anchor="end" fill="#1a1a1a" stroke="#1a1a1a" stroke-width="0.1" >-3.6</text>
<text transform="translate(758.3,150.5) rotate(-90)" font-size="11.2" text-anchor="middle" fill="#1a1a1a" stroke="#1a1a1a" stroke-width="0.1">Log10(BER)</text>
<text x="879.8" y="265.9" font-size="11.0" text-anchor="middle" fill="#1a1a1a" stroke="#1a1a1a" stroke-width="0.1" >Launching power (dBm)</text>
<rect x="871.3" y="68.4" width="95.6" height="30.8" fill="#fff" stroke="#7d7d7d" stroke-width="0.6"/>
<line x1="875.5" y1="77" x2="893.5" y2="77" stroke="#cf6428" stroke-width="1.3"/>
<circle cx="884.5" cy="77" r="3.1" fill="#cf6428"/>
<text x="896.5" y="80.6" font-size="9.6" text-anchor="start" fill="#1a1a1a" stroke="#1a1a1a" stroke-width="0.1" >Con. @-6dBm</text>
<line x1="875.5" y1="91" x2="893.5" y2="91" stroke="#1d78b6" stroke-width="1.3"/>
<rect x="881.9" y="88.3" width="5.3" height="5.3" fill="#1d78b6"/>
<text x="896.5" y="94.6" font-size="9.6" text-anchor="start" fill="#1a1a1a" stroke="#1a1a1a" stroke-width="0.1" >ISAC @-6dBm</text>
<path d="M803.7,161.9 V193 M938,161.9 V200.5" stroke="#111" stroke-width="0.9" stroke-dasharray="2.4,1.8" fill="none"/>
<line x1="804.2" y1="168.6" x2="937.5" y2="168.6" stroke="#222" stroke-width="0.8"/>
<path d="M937.5,168.6 L933.6,170.2 L933.6,167 Z" fill="#222"/>
<path d="M804.2,168.6 L808.1,167 L808.1,170.2 Z" fill="#222"/>
<text x="862" y="162.8" font-size="9.6" text-anchor="middle" fill="#28289c" stroke="#28289c" stroke-width="0.1" font-weight="bold">7dB</text>
<line x1="937" y1="126.1" x2="915.4" y2="126.1" stroke="#222" stroke-width="0.8"/>
<path d="M915.4,126.1 L919.3,124.5 L919.3,127.7 Z" fill="#222"/>
<line x1="937" y1="205.3" x2="894.6" y2="219.2" stroke="#222" stroke-width="0.8"/>
<path d="M894.6,219.2 L897.8,216.5 L898.8,219.5 Z" fill="#222"/>
<path d="M803.7,193 C806.9,193.2 816.5,194 822.9,194 C829.3,194 835.7,193.7 842.1,192.8 C848.5,191.9 854.9,190.9 861.3,188.8 C867.7,186.7 874.1,184.2 880.5,180.4 C886.9,176.7 893.3,171.6 899.7,166.3 C906,161 912.4,154.9 918.8,148.4 C925.2,141.9 931.6,134.4 938,127.5 C944.4,120.6 954,110.2 957.2,106.8" fill="none" stroke="#cf6428" stroke-width="1.6"/>
<path d="M803.7,175.6 C806.9,176.1 816.5,177.6 822.9,178.6 C829.3,179.6 835.7,180.6 842.1,181.8 C848.5,183 854.9,184.2 861.3,185.6 C867.7,187 874.1,188.7 880.5,190.3 C886.9,191.9 893.3,193.6 899.7,195 C906,196.4 913.1,197.9 918.8,198.8 C924.6,199.7 929.7,200.2 934.2,200.2 C938.7,200.2 941.9,199.8 945.7,199 C949.5,198.2 955.3,195.8 957.2,195.2" fill="none" stroke="#1d78b6" stroke-width="1.6"/>
<circle cx="803.7" cy="194.1" r="3.1" fill="#cf6428"/>
<circle cx="822.9" cy="191" r="3.1" fill="#cf6428"/>
<circle cx="842.1" cy="187.4" r="3.1" fill="#cf6428"/>
<circle cx="861.3" cy="188.7" r="3.1" fill="#cf6428"/>
<circle cx="880.5" cy="184.2" r="3.1" fill="#cf6428"/>
<circle cx="899.7" cy="165.5" r="3.1" fill="#cf6428"/>
<circle cx="918.8" cy="147.6" r="3.1" fill="#cf6428"/>
<circle cx="938" cy="126.1" r="3.1" fill="#cf6428"/>
<circle cx="957.2" cy="109.1" r="3.1" fill="#cf6428"/>
<rect x="801.1" y="173" width="5.3" height="5.3" fill="#1d78b6"/>
<rect x="820.2" y="177.5" width="5.3" height="5.3" fill="#1d78b6"/>
<rect x="839.4" y="179.8" width="5.3" height="5.3" fill="#1d78b6"/>
<rect x="858.6" y="182" width="5.3" height="5.3" fill="#1d78b6"/>
<rect x="877.8" y="186" width="5.3" height="5.3" fill="#1d78b6"/>
<rect x="897" y="192.3" width="5.3" height="5.3" fill="#1d78b6"/>
<rect x="916.2" y="195.4" width="5.3" height="5.3" fill="#1d78b6"/>
<rect x="935.4" y="201.2" width="5.3" height="5.3" fill="#1d78b6"/>
<rect x="954.6" y="190.5" width="5.3" height="5.3" fill="#1d78b6"/>
<g clip-path="url(#ec1)">
<rect x="860.3" y="106.8" width="53.6" height="36.3" fill="url(#eyeBgN2)"/>
<g filter="url(#eb)">
<ellipse cx="873.7" cy="124.9" rx="16.1" ry="9.4" fill="url(#eyeN2)"/>
<ellipse cx="900.5" cy="124.9" rx="16.1" ry="9.4" fill="url(#eyeN2)"/>
<rect x="859.3" y="114.1" width="4.4" height="21.8" fill="#1a58e0" opacity="0.75"/>
<ellipse cx="861.5" cy="116.6" rx="2.6" ry="1.7" fill="#0818a8" opacity="0.95"/>
<ellipse cx="861.5" cy="124.9" rx="2.6" ry="1.7" fill="#0818a8" opacity="0.95"/>
<ellipse cx="861.5" cy="133.3" rx="2.6" ry="1.7" fill="#0818a8" opacity="0.95"/>
<ellipse cx="861.5" cy="112.6" rx="2.6" ry="1.2" fill="#30c0e8" opacity="0.7"/>
<ellipse cx="861.5" cy="137.3" rx="2.6" ry="1.2" fill="#30c0e8" opacity="0.7"/>
<rect x="884.9" y="114.1" width="4.4" height="21.8" fill="#1a58e0" opacity="0.75"/>
<ellipse cx="887.1" cy="116.6" rx="2.6" ry="1.7" fill="#0818a8" opacity="0.95"/>
<ellipse cx="887.1" cy="124.9" rx="2.6" ry="1.7" fill="#0818a8" opacity="0.95"/>
<ellipse cx="887.1" cy="133.3" rx="2.6" ry="1.7" fill="#0818a8" opacity="0.95"/>
<ellipse cx="887.1" cy="112.6" rx="2.6" ry="1.2" fill="#30c0e8" opacity="0.7"/>
<ellipse cx="887.1" cy="137.3" rx="2.6" ry="1.2" fill="#30c0e8" opacity="0.7"/>
<rect x="910.5" y="114.1" width="4.4" height="21.8" fill="#1a58e0" opacity="0.75"/>
<ellipse cx="912.7" cy="116.6" rx="2.6" ry="1.7" fill="#0818a8" opacity="0.95"/>
<ellipse cx="912.7" cy="124.9" rx="2.6" ry="1.7" fill="#0818a8" opacity="0.95"/>
<ellipse cx="912.7" cy="133.3" rx="2.6" ry="1.7" fill="#0818a8" opacity="0.95"/>
<ellipse cx="912.7" cy="112.6" rx="2.6" ry="1.2" fill="#30c0e8" opacity="0.7"/>
<ellipse cx="912.7" cy="137.3" rx="2.6" ry="1.2" fill="#30c0e8" opacity="0.7"/>
</g>
<ellipse cx="861.5" cy="120.8" rx="2.4" ry="1.3" fill="#60e0c0" opacity="0.9"/>
<ellipse cx="861.5" cy="120.8" rx="1.3" ry="0.8" fill="#f0c038"/>
<ellipse cx="861.5" cy="129.1" rx="2.4" ry="1.3" fill="#60e0c0" opacity="0.9"/>
<ellipse cx="861.5" cy="129.1" rx="1.3" ry="0.8" fill="#e86030"/>
<ellipse cx="887.1" cy="120.8" rx="2.4" ry="1.3" fill="#60e0c0" opacity="0.9"/>
<ellipse cx="887.1" cy="120.8" rx="1.3" ry="0.8" fill="#f0c038"/>
<ellipse cx="887.1" cy="129.1" rx="2.4" ry="1.3" fill="#60e0c0" opacity="0.9"/>
<ellipse cx="887.1" cy="129.1" rx="1.3" ry="0.8" fill="#e86030"/>
<ellipse cx="912.7" cy="120.8" rx="2.4" ry="1.3" fill="#60e0c0" opacity="0.9"/>
<ellipse cx="912.7" cy="120.8" rx="1.3" ry="0.8" fill="#f0c038"/>
<ellipse cx="912.7" cy="129.1" rx="2.4" ry="1.3" fill="#60e0c0" opacity="0.9"/>
<ellipse cx="912.7" cy="129.1" rx="1.3" ry="0.8" fill="#e86030"/>
</g>
<g clip-path="url(#ec2)">
<rect x="839.4" y="197" width="53.8" height="36.3" fill="url(#eyeBg)"/>
<g filter="url(#eb)">
<line x1="840.6" y1="204.3" x2="866.3" y2="204.3" stroke="#34d0f4" stroke-width="1.6" opacity="0.5"/>
<line x1="840.6" y1="204.3" x2="866.3" y2="211.5" stroke="#34d0f4" stroke-width="1.6" opacity="0.5"/>
<line x1="840.6" y1="204.3" x2="866.3" y2="218.8" stroke="#34d0f4" stroke-width="1.6" opacity="0.5"/>
<line x1="840.6" y1="204.3" x2="866.3" y2="226" stroke="#34d0f4" stroke-width="1.6" opacity="0.5"/>
<line x1="840.6" y1="211.5" x2="866.3" y2="204.3" stroke="#34d0f4" stroke-width="1.6" opacity="0.5"/>
<line x1="840.6" y1="211.5" x2="866.3" y2="211.5" stroke="#34d0f4" stroke-width="1.6" opacity="0.5"/>
<line x1="840.6" y1="211.5" x2="866.3" y2="218.8" stroke="#34d0f4" stroke-width="1.6" opacity="0.5"/>
<line x1="840.6" y1="211.5" x2="866.3" y2="226" stroke="#34d0f4" stroke-width="1.6" opacity="0.5"/>
<line x1="840.6" y1="218.8" x2="866.3" y2="204.3" stroke="#34d0f4" stroke-width="1.6" opacity="0.5"/>
<line x1="840.6" y1="218.8" x2="866.3" y2="211.5" stroke="#34d0f4" stroke-width="1.6" opacity="0.5"/>
<line x1="840.6" y1="218.8" x2="866.3" y2="218.8" stroke="#34d0f4" stroke-width="1.6" opacity="0.5"/>
<line x1="840.6" y1="218.8" x2="866.3" y2="226" stroke="#34d0f4" stroke-width="1.6" opacity="0.5"/>
<line x1="840.6" y1="226" x2="866.3" y2="204.3" stroke="#34d0f4" stroke-width="1.6" opacity="0.5"/>
<line x1="840.6" y1="226" x2="866.3" y2="211.5" stroke="#34d0f4" stroke-width="1.6" opacity="0.5"/>
<line x1="840.6" y1="226" x2="866.3" y2="218.8" stroke="#34d0f4" stroke-width="1.6" opacity="0.5"/>
<line x1="840.6" y1="226" x2="866.3" y2="226" stroke="#34d0f4" stroke-width="1.6" opacity="0.5"/>
<line x1="866.3" y1="204.3" x2="892" y2="204.3" stroke="#34d0f4" stroke-width="1.6" opacity="0.5"/>
<line x1="866.3" y1="204.3" x2="892" y2="211.5" stroke="#34d0f4" stroke-width="1.6" opacity="0.5"/>
<line x1="866.3" y1="204.3" x2="892" y2="218.8" stroke="#34d0f4" stroke-width="1.6" opacity="0.5"/>
<line x1="866.3" y1="204.3" x2="892" y2="226" stroke="#34d0f4" stroke-width="1.6" opacity="0.5"/>
<line x1="866.3" y1="211.5" x2="892" y2="204.3" stroke="#34d0f4" stroke-width="1.6" opacity="0.5"/>
<line x1="866.3" y1="211.5" x2="892" y2="211.5" stroke="#34d0f4" stroke-width="1.6" opacity="0.5"/>
<line x1="866.3" y1="211.5" x2="892" y2="218.8" stroke="#34d0f4" stroke-width="1.6" opacity="0.5"/>
<line x1="866.3" y1="211.5" x2="892" y2="226" stroke="#34d0f4" stroke-width="1.6" opacity="0.5"/>
<line x1="866.3" y1="218.8" x2="892" y2="204.3" stroke="#34d0f4" stroke-width="1.6" opacity="0.5"/>
<line x1="866.3" y1="218.8" x2="892" y2="211.5" stroke="#34d0f4" stroke-width="1.6" opacity="0.5"/>
<line x1="866.3" y1="218.8" x2="892" y2="218.8" stroke="#34d0f4" stroke-width="1.6" opacity="0.5"/>
<line x1="866.3" y1="218.8" x2="892" y2="226" stroke="#34d0f4" stroke-width="1.6" opacity="0.5"/>
<line x1="866.3" y1="226" x2="892" y2="204.3" stroke="#34d0f4" stroke-width="1.6" opacity="0.5"/>
<line x1="866.3" y1="226" x2="892" y2="211.5" stroke="#34d0f4" stroke-width="1.6" opacity="0.5"/>
<line x1="866.3" y1="226" x2="892" y2="218.8" stroke="#34d0f4" stroke-width="1.6" opacity="0.5"/>
<line x1="866.3" y1="226" x2="892" y2="226" stroke="#34d0f4" stroke-width="1.6" opacity="0.5"/>
<ellipse cx="852.9" cy="215.2" rx="12.9" ry="12.3" fill="url(#eyeC)"/>
<ellipse cx="879.8" cy="215.2" rx="12.9" ry="12.3" fill="url(#eyeC)"/>
<rect x="838.9" y="200.8" width="3.4" height="28.8" fill="#0a22b4" opacity="0.8"/>
<ellipse cx="840.6" cy="207.9" rx="4.6" ry="2.1" fill="#0a1eb0" opacity="0.85"/>
<ellipse cx="840.6" cy="215.2" rx="4.6" ry="2.1" fill="#0a1eb0" opacity="0.85"/>
<ellipse cx="840.6" cy="222.4" rx="4.6" ry="2.1" fill="#0a1eb0" opacity="0.85"/>
<rect x="864.6" y="200.8" width="3.4" height="28.8" fill="#0a22b4" opacity="0.8"/>
<ellipse cx="866.3" cy="207.9" rx="4.6" ry="2.1" fill="#0a1eb0" opacity="0.85"/>
<ellipse cx="866.3" cy="215.2" rx="4.6" ry="2.1" fill="#0a1eb0" opacity="0.85"/>
<ellipse cx="866.3" cy="222.4" rx="4.6" ry="2.1" fill="#0a1eb0" opacity="0.85"/>
<rect x="890.3" y="200.8" width="3.4" height="28.8" fill="#0a22b4" opacity="0.8"/>
<ellipse cx="892" cy="207.9" rx="4.6" ry="2.1" fill="#0a1eb0" opacity="0.85"/>
<ellipse cx="892" cy="215.2" rx="4.6" ry="2.1" fill="#0a1eb0" opacity="0.85"/>
<ellipse cx="892" cy="222.4" rx="4.6" ry="2.1" fill="#0a1eb0" opacity="0.85"/>
</g>
<ellipse cx="840.6" cy="204.3" rx="2.7" ry="1.3" fill="#40e0d0" opacity="0.85"/>
<ellipse cx="840.6" cy="204.3" rx="1.4" ry="0.75" fill="#e8e850"/>
<ellipse cx="840.6" cy="211.5" rx="2.7" ry="1.3" fill="#40e0d0" opacity="0.85"/>
<ellipse cx="840.6" cy="211.5" rx="1.4" ry="0.75" fill="#f0b840"/>
<ellipse cx="840.6" cy="218.8" rx="2.7" ry="1.3" fill="#40e0d0" opacity="0.85"/>
<ellipse cx="840.6" cy="218.8" rx="1.4" ry="0.75" fill="#f0b840"/>
<ellipse cx="840.6" cy="226" rx="2.7" ry="1.3" fill="#40e0d0" opacity="0.85"/>
<ellipse cx="840.6" cy="226" rx="1.4" ry="0.75" fill="#e8e850"/>
<ellipse cx="866.3" cy="204.3" rx="2.7" ry="1.3" fill="#40e0d0" opacity="0.85"/>
<ellipse cx="866.3" cy="204.3" rx="1.4" ry="0.75" fill="#e8e850"/>
<ellipse cx="866.3" cy="211.5" rx="2.7" ry="1.3" fill="#40e0d0" opacity="0.85"/>
<ellipse cx="866.3" cy="211.5" rx="1.4" ry="0.75" fill="#f0b840"/>
<ellipse cx="866.3" cy="218.8" rx="2.7" ry="1.3" fill="#40e0d0" opacity="0.85"/>
<ellipse cx="866.3" cy="218.8" rx="1.4" ry="0.75" fill="#f0b840"/>
<ellipse cx="866.3" cy="226" rx="2.7" ry="1.3" fill="#40e0d0" opacity="0.85"/>
<ellipse cx="866.3" cy="226" rx="1.4" ry="0.75" fill="#e8e850"/>
<ellipse cx="892" cy="204.3" rx="2.7" ry="1.3" fill="#40e0d0" opacity="0.85"/>
<ellipse cx="892" cy="204.3" rx="1.4" ry="0.75" fill="#e8e850"/>
<ellipse cx="892" cy="211.5" rx="2.7" ry="1.3" fill="#40e0d0" opacity="0.85"/>
<ellipse cx="892" cy="211.5" rx="1.4" ry="0.75" fill="#f0b840"/>
<ellipse cx="892" cy="218.8" rx="2.7" ry="1.3" fill="#40e0d0" opacity="0.85"/>
<ellipse cx="892" cy="218.8" rx="1.4" ry="0.75" fill="#f0b840"/>
<ellipse cx="892" cy="226" rx="2.7" ry="1.3" fill="#40e0d0" opacity="0.85"/>
<ellipse cx="892" cy="226" rx="1.4" ry="0.75" fill="#e8e850"/>
</g>
<text class="ser" x="800" y="85" font-size="15.5" fill="#111">(a)</text>
<rect x="1034.5" y="63.4" width="181.2" height="173.2" fill="#fff" stroke="#7d7d7d" stroke-width="0.7"/>
<path d="M1046.1,236.6 v-2 M1046.1,63.4 v2" stroke="#7d7d7d" stroke-width="0.6"/>
<path d="M1068.7,236.6 v-2 M1068.7,63.4 v2" stroke="#7d7d7d" stroke-width="0.6"/>
<path d="M1091.2,236.6 v-2 M1091.2,63.4 v2" stroke="#7d7d7d" stroke-width="0.6"/>
<path d="M1113.8,236.6 v-2 M1113.8,63.4 v2" stroke="#7d7d7d" stroke-width="0.6"/>
<path d="M1136.4,236.6 v-2 M1136.4,63.4 v2" stroke="#7d7d7d" stroke-width="0.6"/>
<path d="M1158.9,236.6 v-2 M1158.9,63.4 v2" stroke="#7d7d7d" stroke-width="0.6"/>
<path d="M1181.5,236.6 v-2 M1181.5,63.4 v2" stroke="#7d7d7d" stroke-width="0.6"/>
<path d="M1204.1,236.6 v-2 M1204.1,63.4 v2" stroke="#7d7d7d" stroke-width="0.6"/>
<path d="M1034.5,106.7 h2 M1215.7,106.7 h-2" stroke="#7d7d7d" stroke-width="0.6"/>
<path d="M1034.5,150 h2 M1215.7,150 h-2" stroke="#7d7d7d" stroke-width="0.6"/>
<path d="M1034.5,193.3 h2 M1215.7,193.3 h-2" stroke="#7d7d7d" stroke-width="0.6"/>
<text x="1044.9" y="249.6" font-size="10.6" text-anchor="middle" fill="#1a1a1a" stroke="#1a1a1a" stroke-width="0.1" >-10</text>
<text x="1067.5" y="249.6" font-size="10.6" text-anchor="middle" fill="#1a1a1a" stroke="#1a1a1a" stroke-width="0.1" >-9</text>
<text x="1090" y="249.6" font-size="10.6" text-anchor="middle" fill="#1a1a1a" stroke="#1a1a1a" stroke-width="0.1" >-8</text>
<text x="1112.6" y="249.6" font-size="10.6" text-anchor="middle" fill="#1a1a1a" stroke="#1a1a1a" stroke-width="0.1" >-7</text>
<text x="1135.2" y="249.6" font-size="10.6" text-anchor="middle" fill="#1a1a1a" stroke="#1a1a1a" stroke-width="0.1" >-6</text>
<text x="1157.7" y="249.6" font-size="10.6" text-anchor="middle" fill="#1a1a1a" stroke="#1a1a1a" stroke-width="0.1" >-5</text>
<text x="1180.3" y="249.6" font-size="10.6" text-anchor="middle" fill="#1a1a1a" stroke="#1a1a1a" stroke-width="0.1" >-4</text>
<text x="1202.9" y="249.6" font-size="10.6" text-anchor="middle" fill="#1a1a1a" stroke="#1a1a1a" stroke-width="0.1" >-3</text>
<text x="1032.3" y="67.9" font-size="10.6" text-anchor="end" fill="#1a1a1a" stroke="#1a1a1a" stroke-width="0.1" >0</text>
<text x="1032.3" y="111.2" font-size="10.6" text-anchor="end" fill="#1a1a1a" stroke="#1a1a1a" stroke-width="0.1" >-1</text>
<text x="1032.3" y="154.5" font-size="10.6" text-anchor="end" fill="#1a1a1a" stroke="#1a1a1a" stroke-width="0.1" >-2</text>
<text x="1032.3" y="197.8" font-size="10.6" text-anchor="end" fill="#1a1a1a" stroke="#1a1a1a" stroke-width="0.1" >-3</text>
<text x="1032.3" y="241.1" font-size="10.6" text-anchor="end" fill="#1a1a1a" stroke="#1a1a1a" stroke-width="0.1" >-4</text>
<text transform="translate(1004.5,150.5) rotate(-90)" font-size="11.2" text-anchor="middle" fill="#1a1a1a" stroke="#1a1a1a" stroke-width="0.1">Log10(BER)</text>
<text x="1124.4" y="265.9" font-size="11.0" text-anchor="middle" fill="#1a1a1a" stroke="#1a1a1a" stroke-width="0.1" >Received power (dBm)</text>
<rect x="1115.5" y="68.4" width="94.8" height="30.8" fill="#fff" stroke="#7d7d7d" stroke-width="0.6"/>
<line x1="1119.5" y1="77" x2="1137.5" y2="77" stroke="#cf6428" stroke-width="1.3"/>
<circle cx="1128.5" cy="77" r="3.1" fill="#cf6428"/>
<text x="1141" y="80.6" font-size="9.6" text-anchor="start" fill="#1a1a1a" stroke="#1a1a1a" stroke-width="0.1" >Con. @9dBm</text>
<line x1="1119.5" y1="91" x2="1137.5" y2="91" stroke="#1d78b6" stroke-width="1.3"/>
<rect x="1125.8" y="88.3" width="5.3" height="5.3" fill="#1d78b6"/>
<text x="1141" y="94.6" font-size="9.6" text-anchor="start" fill="#1a1a1a" stroke="#1a1a1a" stroke-width="0.1" >ISAC @16dBm</text>
<line x1="1047" y1="167.2" x2="1205" y2="167.2" stroke="#000" stroke-width="1.15" stroke-dasharray="1.35,1.35"/>
<text x="1185.5" y="162" font-size="9.6" text-anchor="middle" fill="#1a1a1a" stroke="#1a1a1a" stroke-width="0.1" >7% FEC</text>
<path d="M1091.2,167.2 V188.7" stroke="#111" stroke-width="0.9" stroke-dasharray="2.4,1.8" fill="none"/>
<path d="M1123,167.2 V188.7" stroke="#8a8a8a" stroke-width="0.8" stroke-dasharray="2.4,1.8" fill="none"/>
<line x1="1091.7" y1="185.6" x2="1122.5" y2="185.6" stroke="#555" stroke-width="1.1"/>
<path d="M1122.5,185.6 L1118.8,187.1 L1118.8,184.1 Z" fill="#555"/>
<path d="M1091.7,185.6 L1095.5,184.1 L1095.5,187.1 Z" fill="#555"/>
<text x="1094" y="201.2" font-size="9.2" text-anchor="start" fill="#28289c" stroke="#28289c" stroke-width="0.1" font-weight="bold">~1.3 dB</text>
<line x1="1093.7" y1="139.5" x2="1117.4" y2="122.3" stroke="#222" stroke-width="0.8"/>
<path d="M1117.4,122.3 L1115.2,125.9 L1113.3,123.3 Z" fill="#222"/>
<line x1="1088.7" y1="167.2" x2="1064.6" y2="187.2" stroke="#222" stroke-width="0.8"/>
<path d="M1064.6,187.2 L1066.6,183.5 L1068.6,185.9 Z" fill="#222"/>
<path d="M1046.1,107 C1049.9,109.9 1061.1,118.2 1068.7,124.3 C1076.2,130.3 1083.7,137 1091.2,143.3 C1098.8,149.6 1106.3,156.2 1113.8,162 C1121.3,167.8 1128.9,173.1 1136.4,178 C1143.9,182.9 1151.4,187.1 1158.9,191.3 C1166.5,195.5 1174,199.4 1181.5,203 C1189,206.6 1200.3,211.2 1204.1,212.8" fill="none" stroke="#cf6428" stroke-width="1.6"/>
<path d="M1046.1,135 C1049.9,137.9 1061.1,147.1 1068.7,152.3 C1076.2,157.5 1083.7,162 1091.2,166.3 C1098.8,170.6 1106.3,174.6 1113.8,178.3 C1121.3,182.1 1128.9,185.7 1136.4,188.8 C1143.9,191.9 1151.4,194.6 1158.9,197 C1166.5,199.4 1174,201.5 1181.5,203.2 C1189,204.9 1200.3,206.6 1204.1,207.3" fill="none" stroke="#1d78b6" stroke-width="1.6"/>
<circle cx="1046.1" cy="107.3" r="3.1" fill="#cf6428"/>
<circle cx="1068.7" cy="121.6" r="3.1" fill="#cf6428"/>
<circle cx="1091.2" cy="141.3" r="3.1" fill="#cf6428"/>
<circle cx="1113.8" cy="164.6" r="3.1" fill="#cf6428"/>
<circle cx="1136.4" cy="182.9" r="3.1" fill="#cf6428"/>
<circle cx="1158.9" cy="188.7" r="3.1" fill="#cf6428"/>
<circle cx="1181.5" cy="201.3" r="3.1" fill="#cf6428"/>
<circle cx="1204.1" cy="212" r="3.1" fill="#cf6428"/>
<rect x="1043.4" y="130.5" width="5.3" height="5.3" fill="#1d78b6"/>
<rect x="1066" y="150.2" width="5.3" height="5.3" fill="#1d78b6"/>
<rect x="1088.6" y="162.8" width="5.3" height="5.3" fill="#1d78b6"/>
<rect x="1111.2" y="174.4" width="5.3" height="5.3" fill="#1d78b6"/>
<rect x="1133.7" y="187.8" width="5.3" height="5.3" fill="#1d78b6"/>
<rect x="1156.3" y="194.5" width="5.3" height="5.3" fill="#1d78b6"/>
<rect x="1178.9" y="204.4" width="5.3" height="5.3" fill="#1d78b6"/>
<rect x="1201.4" y="202.7" width="5.3" height="5.3" fill="#1d78b6"/>
<g clip-path="url(#ec3)">
<rect x="1118.1" y="106.8" width="54.2" height="36.3" fill="url(#eyeBg)"/>
<g filter="url(#eb)">
<line x1="1119.3" y1="114.1" x2="1145.2" y2="114.1" stroke="#34d0f4" stroke-width="1.6" opacity="0.5"/>
<line x1="1119.3" y1="114.1" x2="1145.2" y2="121.3" stroke="#34d0f4" stroke-width="1.6" opacity="0.5"/>
<line x1="1119.3" y1="114.1" x2="1145.2" y2="128.6" stroke="#34d0f4" stroke-width="1.6" opacity="0.5"/>
<line x1="1119.3" y1="114.1" x2="1145.2" y2="135.8" stroke="#34d0f4" stroke-width="1.6" opacity="0.5"/>
<line x1="1119.3" y1="121.3" x2="1145.2" y2="114.1" stroke="#34d0f4" stroke-width="1.6" opacity="0.5"/>
<line x1="1119.3" y1="121.3" x2="1145.2" y2="121.3" stroke="#34d0f4" stroke-width="1.6" opacity="0.5"/>
<line x1="1119.3" y1="121.3" x2="1145.2" y2="128.6" stroke="#34d0f4" stroke-width="1.6" opacity="0.5"/>
<line x1="1119.3" y1="121.3" x2="1145.2" y2="135.8" stroke="#34d0f4" stroke-width="1.6" opacity="0.5"/>
<line x1="1119.3" y1="128.6" x2="1145.2" y2="114.1" stroke="#34d0f4" stroke-width="1.6" opacity="0.5"/>
<line x1="1119.3" y1="128.6" x2="1145.2" y2="121.3" stroke="#34d0f4" stroke-width="1.6" opacity="0.5"/>
<line x1="1119.3" y1="128.6" x2="1145.2" y2="128.6" stroke="#34d0f4" stroke-width="1.6" opacity="0.5"/>
<line x1="1119.3" y1="128.6" x2="1145.2" y2="135.8" stroke="#34d0f4" stroke-width="1.6" opacity="0.5"/>
<line x1="1119.3" y1="135.8" x2="1145.2" y2="114.1" stroke="#34d0f4" stroke-width="1.6" opacity="0.5"/>
<line x1="1119.3" y1="135.8" x2="1145.2" y2="121.3" stroke="#34d0f4" stroke-width="1.6" opacity="0.5"/>
<line x1="1119.3" y1="135.8" x2="1145.2" y2="128.6" stroke="#34d0f4" stroke-width="1.6" opacity="0.5"/>
<line x1="1119.3" y1="135.8" x2="1145.2" y2="135.8" stroke="#34d0f4" stroke-width="1.6" opacity="0.5"/>
<line x1="1145.2" y1="114.1" x2="1171.1" y2="114.1" stroke="#34d0f4" stroke-width="1.6" opacity="0.5"/>
<line x1="1145.2" y1="114.1" x2="1171.1" y2="121.3" stroke="#34d0f4" stroke-width="1.6" opacity="0.5"/>
<line x1="1145.2" y1="114.1" x2="1171.1" y2="128.6" stroke="#34d0f4" stroke-width="1.6" opacity="0.5"/>
<line x1="1145.2" y1="114.1" x2="1171.1" y2="135.8" stroke="#34d0f4" stroke-width="1.6" opacity="0.5"/>
<line x1="1145.2" y1="121.3" x2="1171.1" y2="114.1" stroke="#34d0f4" stroke-width="1.6" opacity="0.5"/>
<line x1="1145.2" y1="121.3" x2="1171.1" y2="121.3" stroke="#34d0f4" stroke-width="1.6" opacity="0.5"/>
<line x1="1145.2" y1="121.3" x2="1171.1" y2="128.6" stroke="#34d0f4" stroke-width="1.6" opacity="0.5"/>
<line x1="1145.2" y1="121.3" x2="1171.1" y2="135.8" stroke="#34d0f4" stroke-width="1.6" opacity="0.5"/>
<line x1="1145.2" y1="128.6" x2="1171.1" y2="114.1" stroke="#34d0f4" stroke-width="1.6" opacity="0.5"/>
<line x1="1145.2" y1="128.6" x2="1171.1" y2="121.3" stroke="#34d0f4" stroke-width="1.6" opacity="0.5"/>
<line x1="1145.2" y1="128.6" x2="1171.1" y2="128.6" stroke="#34d0f4" stroke-width="1.6" opacity="0.5"/>
<line x1="1145.2" y1="128.6" x2="1171.1" y2="135.8" stroke="#34d0f4" stroke-width="1.6" opacity="0.5"/>
<line x1="1145.2" y1="135.8" x2="1171.1" y2="114.1" stroke="#34d0f4" stroke-width="1.6" opacity="0.5"/>
<line x1="1145.2" y1="135.8" x2="1171.1" y2="121.3" stroke="#34d0f4" stroke-width="1.6" opacity="0.5"/>
<line x1="1145.2" y1="135.8" x2="1171.1" y2="128.6" stroke="#34d0f4" stroke-width="1.6" opacity="0.5"/>
<line x1="1145.2" y1="135.8" x2="1171.1" y2="135.8" stroke="#34d0f4" stroke-width="1.6" opacity="0.5"/>
<ellipse cx="1131.6" cy="124.9" rx="13" ry="12.3" fill="url(#eyeC)"/>
<ellipse cx="1158.8" cy="124.9" rx="13" ry="12.3" fill="url(#eyeC)"/>
<rect x="1117.6" y="110.6" width="3.4" height="28.8" fill="#0a22b4" opacity="0.8"/>
<ellipse cx="1119.3" cy="117.7" rx="4.6" ry="2.1" fill="#0a1eb0" opacity="0.85"/>
<ellipse cx="1119.3" cy="124.9" rx="4.6" ry="2.1" fill="#0a1eb0" opacity="0.85"/>
<ellipse cx="1119.3" cy="132.2" rx="4.6" ry="2.1" fill="#0a1eb0" opacity="0.85"/>
<rect x="1143.5" y="110.6" width="3.4" height="28.8" fill="#0a22b4" opacity="0.8"/>
<ellipse cx="1145.2" cy="117.7" rx="4.6" ry="2.1" fill="#0a1eb0" opacity="0.85"/>
<ellipse cx="1145.2" cy="124.9" rx="4.6" ry="2.1" fill="#0a1eb0" opacity="0.85"/>
<ellipse cx="1145.2" cy="132.2" rx="4.6" ry="2.1" fill="#0a1eb0" opacity="0.85"/>
<rect x="1169.4" y="110.6" width="3.4" height="28.8" fill="#0a22b4" opacity="0.8"/>
<ellipse cx="1171.1" cy="117.7" rx="4.6" ry="2.1" fill="#0a1eb0" opacity="0.85"/>
<ellipse cx="1171.1" cy="124.9" rx="4.6" ry="2.1" fill="#0a1eb0" opacity="0.85"/>
<ellipse cx="1171.1" cy="132.2" rx="4.6" ry="2.1" fill="#0a1eb0" opacity="0.85"/>
</g>
<ellipse cx="1119.3" cy="114.1" rx="2.7" ry="1.3" fill="#40e0d0" opacity="0.85"/>
<ellipse cx="1119.3" cy="114.1" rx="1.4" ry="0.75" fill="#e8e850"/>
<ellipse cx="1119.3" cy="121.3" rx="2.7" ry="1.3" fill="#40e0d0" opacity="0.85"/>
<ellipse cx="1119.3" cy="121.3" rx="1.4" ry="0.75" fill="#f0b840"/>
<ellipse cx="1119.3" cy="128.6" rx="2.7" ry="1.3" fill="#40e0d0" opacity="0.85"/>
<ellipse cx="1119.3" cy="128.6" rx="1.4" ry="0.75" fill="#f0b840"/>
<ellipse cx="1119.3" cy="135.8" rx="2.7" ry="1.3" fill="#40e0d0" opacity="0.85"/>
<ellipse cx="1119.3" cy="135.8" rx="1.4" ry="0.75" fill="#e8e850"/>
<ellipse cx="1145.2" cy="114.1" rx="2.7" ry="1.3" fill="#40e0d0" opacity="0.85"/>
<ellipse cx="1145.2" cy="114.1" rx="1.4" ry="0.75" fill="#e8e850"/>
<ellipse cx="1145.2" cy="121.3" rx="2.7" ry="1.3" fill="#40e0d0" opacity="0.85"/>
<ellipse cx="1145.2" cy="121.3" rx="1.4" ry="0.75" fill="#f0b840"/>
<ellipse cx="1145.2" cy="128.6" rx="2.7" ry="1.3" fill="#40e0d0" opacity="0.85"/>
<ellipse cx="1145.2" cy="128.6" rx="1.4" ry="0.75" fill="#f0b840"/>
<ellipse cx="1145.2" cy="135.8" rx="2.7" ry="1.3" fill="#40e0d0" opacity="0.85"/>
<ellipse cx="1145.2" cy="135.8" rx="1.4" ry="0.75" fill="#e8e850"/>
<ellipse cx="1171.1" cy="114.1" rx="2.7" ry="1.3" fill="#40e0d0" opacity="0.85"/>
<ellipse cx="1171.1" cy="114.1" rx="1.4" ry="0.75" fill="#e8e850"/>
<ellipse cx="1171.1" cy="121.3" rx="2.7" ry="1.3" fill="#40e0d0" opacity="0.85"/>
<ellipse cx="1171.1" cy="121.3" rx="1.4" ry="0.75" fill="#f0b840"/>
<ellipse cx="1171.1" cy="128.6" rx="2.7" ry="1.3" fill="#40e0d0" opacity="0.85"/>
<ellipse cx="1171.1" cy="128.6" rx="1.4" ry="0.75" fill="#f0b840"/>
<ellipse cx="1171.1" cy="135.8" rx="2.7" ry="1.3" fill="#40e0d0" opacity="0.85"/>
<ellipse cx="1171.1" cy="135.8" rx="1.4" ry="0.75" fill="#e8e850"/>
</g>
<g clip-path="url(#ec4)">
<rect x="1039.4" y="188.7" width="53.2" height="36.7" fill="url(#eyeBg)"/>
<g filter="url(#eb)">
<line x1="1040.6" y1="196" x2="1066" y2="196" stroke="#34d0f4" stroke-width="1.6" opacity="0.5"/>
<line x1="1040.6" y1="196" x2="1066" y2="203.4" stroke="#34d0f4" stroke-width="1.6" opacity="0.5"/>
<line x1="1040.6" y1="196" x2="1066" y2="210.7" stroke="#34d0f4" stroke-width="1.6" opacity="0.5"/>
<line x1="1040.6" y1="196" x2="1066" y2="218.1" stroke="#34d0f4" stroke-width="1.6" opacity="0.5"/>
<line x1="1040.6" y1="203.4" x2="1066" y2="196" stroke="#34d0f4" stroke-width="1.6" opacity="0.5"/>
<line x1="1040.6" y1="203.4" x2="1066" y2="203.4" stroke="#34d0f4" stroke-width="1.6" opacity="0.5"/>
<line x1="1040.6" y1="203.4" x2="1066" y2="210.7" stroke="#34d0f4" stroke-width="1.6" opacity="0.5"/>
<line x1="1040.6" y1="203.4" x2="1066" y2="218.1" stroke="#34d0f4" stroke-width="1.6" opacity="0.5"/>
<line x1="1040.6" y1="210.7" x2="1066" y2="196" stroke="#34d0f4" stroke-width="1.6" opacity="0.5"/>
<line x1="1040.6" y1="210.7" x2="1066" y2="203.4" stroke="#34d0f4" stroke-width="1.6" opacity="0.5"/>
<line x1="1040.6" y1="210.7" x2="1066" y2="210.7" stroke="#34d0f4" stroke-width="1.6" opacity="0.5"/>
<line x1="1040.6" y1="210.7" x2="1066" y2="218.1" stroke="#34d0f4" stroke-width="1.6" opacity="0.5"/>
<line x1="1040.6" y1="218.1" x2="1066" y2="196" stroke="#34d0f4" stroke-width="1.6" opacity="0.5"/>
<line x1="1040.6" y1="218.1" x2="1066" y2="203.4" stroke="#34d0f4" stroke-width="1.6" opacity="0.5"/>
<line x1="1040.6" y1="218.1" x2="1066" y2="210.7" stroke="#34d0f4" stroke-width="1.6" opacity="0.5"/>
<line x1="1040.6" y1="218.1" x2="1066" y2="218.1" stroke="#34d0f4" stroke-width="1.6" opacity="0.5"/>
<line x1="1066" y1="196" x2="1091.4" y2="196" stroke="#34d0f4" stroke-width="1.6" opacity="0.5"/>
<line x1="1066" y1="196" x2="1091.4" y2="203.4" stroke="#34d0f4" stroke-width="1.6" opacity="0.5"/>
<line x1="1066" y1="196" x2="1091.4" y2="210.7" stroke="#34d0f4" stroke-width="1.6" opacity="0.5"/>
<line x1="1066" y1="196" x2="1091.4" y2="218.1" stroke="#34d0f4" stroke-width="1.6" opacity="0.5"/>
<line x1="1066" y1="203.4" x2="1091.4" y2="196" stroke="#34d0f4" stroke-width="1.6" opacity="0.5"/>
<line x1="1066" y1="203.4" x2="1091.4" y2="203.4" stroke="#34d0f4" stroke-width="1.6" opacity="0.5"/>
<line x1="1066" y1="203.4" x2="1091.4" y2="210.7" stroke="#34d0f4" stroke-width="1.6" opacity="0.5"/>
<line x1="1066" y1="203.4" x2="1091.4" y2="218.1" stroke="#34d0f4" stroke-width="1.6" opacity="0.5"/>
<line x1="1066" y1="210.7" x2="1091.4" y2="196" stroke="#34d0f4" stroke-width="1.6" opacity="0.5"/>
<line x1="1066" y1="210.7" x2="1091.4" y2="203.4" stroke="#34d0f4" stroke-width="1.6" opacity="0.5"/>
<line x1="1066" y1="210.7" x2="1091.4" y2="210.7" stroke="#34d0f4" stroke-width="1.6" opacity="0.5"/>
<line x1="1066" y1="210.7" x2="1091.4" y2="218.1" stroke="#34d0f4" stroke-width="1.6" opacity="0.5"/>
<line x1="1066" y1="218.1" x2="1091.4" y2="196" stroke="#34d0f4" stroke-width="1.6" opacity="0.5"/>
<line x1="1066" y1="218.1" x2="1091.4" y2="203.4" stroke="#34d0f4" stroke-width="1.6" opacity="0.5"/>
<line x1="1066" y1="218.1" x2="1091.4" y2="210.7" stroke="#34d0f4" stroke-width="1.6" opacity="0.5"/>
<line x1="1066" y1="218.1" x2="1091.4" y2="218.1" stroke="#34d0f4" stroke-width="1.6" opacity="0.5"/>
<ellipse cx="1052.7" cy="207" rx="12.8" ry="12.5" fill="url(#eyeC)"/>
<ellipse cx="1079.3" cy="207" rx="12.8" ry="12.5" fill="url(#eyeC)"/>
<rect x="1038.9" y="192.5" width="3.4" height="29" fill="#0a22b4" opacity="0.8"/>
<ellipse cx="1040.6" cy="199.7" rx="4.6" ry="2.1" fill="#0a1eb0" opacity="0.85"/>
<ellipse cx="1040.6" cy="207.1" rx="4.6" ry="2.1" fill="#0a1eb0" opacity="0.85"/>
<ellipse cx="1040.6" cy="214.4" rx="4.6" ry="2.1" fill="#0a1eb0" opacity="0.85"/>
<rect x="1064.3" y="192.5" width="3.4" height="29" fill="#0a22b4" opacity="0.8"/>
<ellipse cx="1066" cy="199.7" rx="4.6" ry="2.1" fill="#0a1eb0" opacity="0.85"/>
<ellipse cx="1066" cy="207.1" rx="4.6" ry="2.1" fill="#0a1eb0" opacity="0.85"/>
<ellipse cx="1066" cy="214.4" rx="4.6" ry="2.1" fill="#0a1eb0" opacity="0.85"/>
<rect x="1089.7" y="192.5" width="3.4" height="29" fill="#0a22b4" opacity="0.8"/>
<ellipse cx="1091.4" cy="199.7" rx="4.6" ry="2.1" fill="#0a1eb0" opacity="0.85"/>
<ellipse cx="1091.4" cy="207.1" rx="4.6" ry="2.1" fill="#0a1eb0" opacity="0.85"/>
<ellipse cx="1091.4" cy="214.4" rx="4.6" ry="2.1" fill="#0a1eb0" opacity="0.85"/>
</g>
<ellipse cx="1040.6" cy="196" rx="2.7" ry="1.3" fill="#40e0d0" opacity="0.85"/>
<ellipse cx="1040.6" cy="196" rx="1.4" ry="0.75" fill="#e8e850"/>
<ellipse cx="1040.6" cy="203.4" rx="2.7" ry="1.3" fill="#40e0d0" opacity="0.85"/>
<ellipse cx="1040.6" cy="203.4" rx="1.4" ry="0.75" fill="#f0b840"/>
<ellipse cx="1040.6" cy="210.7" rx="2.7" ry="1.3" fill="#40e0d0" opacity="0.85"/>
<ellipse cx="1040.6" cy="210.7" rx="1.4" ry="0.75" fill="#f0b840"/>
<ellipse cx="1040.6" cy="218.1" rx="2.7" ry="1.3" fill="#40e0d0" opacity="0.85"/>
<ellipse cx="1040.6" cy="218.1" rx="1.4" ry="0.75" fill="#e8e850"/>
<ellipse cx="1066" cy="196" rx="2.7" ry="1.3" fill="#40e0d0" opacity="0.85"/>
<ellipse cx="1066" cy="196" rx="1.4" ry="0.75" fill="#e8e850"/>
<ellipse cx="1066" cy="203.4" rx="2.7" ry="1.3" fill="#40e0d0" opacity="0.85"/>
<ellipse cx="1066" cy="203.4" rx="1.4" ry="0.75" fill="#f0b840"/>
<ellipse cx="1066" cy="210.7" rx="2.7" ry="1.3" fill="#40e0d0" opacity="0.85"/>
<ellipse cx="1066" cy="210.7" rx="1.4" ry="0.75" fill="#f0b840"/>
<ellipse cx="1066" cy="218.1" rx="2.7" ry="1.3" fill="#40e0d0" opacity="0.85"/>
<ellipse cx="1066" cy="218.1" rx="1.4" ry="0.75" fill="#e8e850"/>
<ellipse cx="1091.4" cy="196" rx="2.7" ry="1.3" fill="#40e0d0" opacity="0.85"/>
<ellipse cx="1091.4" cy="196" rx="1.4" ry="0.75" fill="#e8e850"/>
<ellipse cx="1091.4" cy="203.4" rx="2.7" ry="1.3" fill="#40e0d0" opacity="0.85"/>
<ellipse cx="1091.4" cy="203.4" rx="1.4" ry="0.75" fill="#f0b840"/>
<ellipse cx="1091.4" cy="210.7" rx="2.7" ry="1.3" fill="#40e0d0" opacity="0.85"/>
<ellipse cx="1091.4" cy="210.7" rx="1.4" ry="0.75" fill="#f0b840"/>
<ellipse cx="1091.4" cy="218.1" rx="2.7" ry="1.3" fill="#40e0d0" opacity="0.85"/>
<ellipse cx="1091.4" cy="218.1" rx="1.4" ry="0.75" fill="#e8e850"/>
</g>
<text class="ser" x="1042.3" y="85" font-size="15.5" fill="#111">(b)</text>
<rect x="790.6" y="290" width="183.4" height="170.8" fill="#28b9b0"/>
<rect x="790.6" y="290" width="183.4" height="170.8" filter="url(#streak)"/>
<line x1="959" y1="290" x2="959" y2="460.8" stroke="#a8d860" stroke-width="0.8" opacity="0.5"/>
<rect x="868.9" y="311.6" width="59.1" height="123" fill="#2db4be"/>
<rect x="868.9" y="311.6" width="59.1" height="123" filter="url(#wav)" opacity="0.8"/>
<g clip-path="url(#insC)">
<ellipse cx="895.6" cy="319.6" rx="5.6" ry="6.2" fill="url(#blobB)"/>
<ellipse cx="896" cy="336.2" rx="7" ry="5.6" fill="url(#blobY)"/>
<ellipse cx="895.6" cy="350.9" rx="5.6" ry="6.2" fill="url(#blobB)"/>
<ellipse cx="896" cy="369.7" rx="7" ry="5.6" fill="url(#blobY)"/>
<ellipse cx="895.6" cy="385.4" rx="5.6" ry="6.2" fill="url(#blobB)"/>
<ellipse cx="896" cy="402.4" rx="7" ry="5.6" fill="url(#blobY)"/>
<ellipse cx="895.6" cy="419" rx="5.6" ry="6.2" fill="url(#blobB)"/>
<ellipse cx="896" cy="433.5" rx="7" ry="5.6" fill="url(#blobY)"/>
</g>
<text x="849.6" y="318.6" font-size="9.7" text-anchor="middle" fill="#111" stroke="#111" stroke-width="0.1" >4.712</text>
<text x="849.6" y="347.3" font-size="9.7" text-anchor="middle" fill="#111" stroke="#111" stroke-width="0.1" >3.534</text>
<text x="849.6" y="376.4" font-size="9.7" text-anchor="middle" fill="#111" stroke="#111" stroke-width="0.1" >2.356</text>
<text x="849.6" y="405.5" font-size="9.7" text-anchor="middle" fill="#111" stroke="#111" stroke-width="0.1" >1.178</text>
<text x="860" y="433.6" font-size="9.7" text-anchor="middle" fill="#111" stroke="#111" stroke-width="0.1" >0</text>
<text x="868.6" y="447" font-size="9.7" text-anchor="middle" fill="#111" stroke="#111" stroke-width="0.1" >22.49</text>
<text x="897.6" y="447" font-size="9.7" text-anchor="middle" fill="#111" stroke="#111" stroke-width="0.1" >22.51</text>
<text x="927.5" y="447" font-size="9.7" text-anchor="middle" fill="#111" stroke="#111" stroke-width="0.1" >22.53</text>
<rect x="953" y="290.4" width="10.3" height="170" fill="none" stroke="#3a3636" stroke-width="0.9" stroke-dasharray="3.4,1.8"/>
<line x1="953.5" y1="375.1" x2="940.2" y2="375.1" stroke="#8c3030" stroke-width="1.1"/>
<path d="M940.2,375.1 L943.4,373.8 L943.4,376.4 Z" fill="#8c3030"/>
<circle cx="939.4" cy="375.1" r="1.2" fill="#8c3030"/>
<rect x="790.6" y="290" width="183.4" height="170.8" fill="none" stroke="#7d7d7d" stroke-width="0.5" opacity="0.6"/>
<text x="786.8" y="297.5" font-size="10.9" text-anchor="end" fill="#1a1a1a" stroke="#1a1a1a" stroke-width="0.1" >4.712</text>
<text x="786.8" y="339.1" font-size="10.9" text-anchor="end" fill="#1a1a1a" stroke="#1a1a1a" stroke-width="0.1" >3.534</text>
<text x="786.8" y="379.4" font-size="10.9" text-anchor="end" fill="#1a1a1a" stroke="#1a1a1a" stroke-width="0.1" >2.356</text>
<text x="786.8" y="421" font-size="10.9" text-anchor="end" fill="#1a1a1a" stroke="#1a1a1a" stroke-width="0.1" >1.178</text>
<text x="786.8" y="462.1" font-size="10.9" text-anchor="end" fill="#1a1a1a" stroke="#1a1a1a" stroke-width="0.1" >0</text>
<text x="789.4" y="475.4" font-size="10.6" text-anchor="middle" fill="#1a1a1a" stroke="#1a1a1a" stroke-width="0.1" >0</text>
<text x="819.2" y="475.4" font-size="10.6" text-anchor="middle" fill="#1a1a1a" stroke="#1a1a1a" stroke-width="0.1" >4.9</text>
<text x="852.4" y="475.4" font-size="10.6" text-anchor="middle" fill="#1a1a1a" stroke="#1a1a1a" stroke-width="0.1" >9.8</text>
<text x="892" y="475.4" font-size="10.6" text-anchor="middle" fill="#1a1a1a" stroke="#1a1a1a" stroke-width="0.1" >14.7</text>
<text x="929.8" y="475.4" font-size="10.6" text-anchor="middle" fill="#1a1a1a" stroke="#1a1a1a" stroke-width="0.1" >19.6</text>
<text x="969.8" y="475.4" font-size="10.6" text-anchor="middle" fill="#1a1a1a" stroke="#1a1a1a" stroke-width="0.1" >24.5</text>
<text transform="translate(755.6,378.5) rotate(-90)" font-size="11.2" text-anchor="middle" fill="#1a1a1a" stroke="#1a1a1a" stroke-width="0.1">Time (ms)</text>
<text x="878.5" y="491" font-size="11.0" text-anchor="middle" fill="#1a1a1a" stroke="#1a1a1a" stroke-width="0.1" >Distance (km)</text>
<text class="ser" x="799.8" y="452.5" font-size="15.5" fill="#111">(c)</text>
<rect x="1034.9" y="291.4" width="180.3" height="170" fill="#fff" stroke="#7d7d7d" stroke-width="0.7"/>
<path d="M1051.5,461.4 v-2 M1051.5,291.4 v2" stroke="#7d7d7d" stroke-width="0.6"/>
<path d="M1088.1,461.4 v-2 M1088.1,291.4 v2" stroke="#7d7d7d" stroke-width="0.6"/>
<path d="M1124.7,461.4 v-2 M1124.7,291.4 v2" stroke="#7d7d7d" stroke-width="0.6"/>
<path d="M1161.3,461.4 v-2 M1161.3,291.4 v2" stroke="#7d7d7d" stroke-width="0.6"/>
<path d="M1197.9,461.4 v-2 M1197.9,291.4 v2" stroke="#7d7d7d" stroke-width="0.6"/>
<path d="M1034.9,333.9 h2 M1215.2,333.9 h-2" stroke="#7d7d7d" stroke-width="0.6"/>
<path d="M1034.9,376.4 h2 M1215.2,376.4 h-2" stroke="#7d7d7d" stroke-width="0.6"/>
<path d="M1034.9,418.9 h2 M1215.2,418.9 h-2" stroke="#7d7d7d" stroke-width="0.6"/>
<text x="1051.5" y="476.6" font-size="10.6" text-anchor="middle" fill="#1a1a1a" stroke="#1a1a1a" stroke-width="0.1" >0.3</text>
<text x="1088.1" y="476.6" font-size="10.6" text-anchor="middle" fill="#1a1a1a" stroke="#1a1a1a" stroke-width="0.1" >0.9</text>
<text x="1124.7" y="476.6" font-size="10.6" text-anchor="middle" fill="#1a1a1a" stroke="#1a1a1a" stroke-width="0.1" >1.5</text>
<text x="1161.3" y="476.6" font-size="10.6" text-anchor="middle" fill="#1a1a1a" stroke="#1a1a1a" stroke-width="0.1" >2.1</text>
<text x="1197.9" y="476.6" font-size="10.6" text-anchor="middle" fill="#1a1a1a" stroke="#1a1a1a" stroke-width="0.1" >2.7</text>
<text x="1029.6" y="295.4" font-size="10.6" text-anchor="end" fill="#1a1a1a" stroke="#1a1a1a" stroke-width="0.1" >-5</text>
<text x="1219.9" y="295.4" font-size="10.6" text-anchor="start" fill="#1a1a1a" stroke="#1a1a1a" stroke-width="0.1" >33</text>
<text x="1029.6" y="337.9" font-size="10.6" text-anchor="end" fill="#1a1a1a" stroke="#1a1a1a" stroke-width="0.1" >-10</text>
<text x="1219.9" y="337.9" font-size="10.6" text-anchor="start" fill="#1a1a1a" stroke="#1a1a1a" stroke-width="0.1" >28</text>
<text x="1029.6" y="380.4" font-size="10.6" text-anchor="end" fill="#1a1a1a" stroke="#1a1a1a" stroke-width="0.1" >-15</text>
<text x="1219.9" y="380.4" font-size="10.6" text-anchor="start" fill="#1a1a1a" stroke="#1a1a1a" stroke-width="0.1" >23</text>
<text x="1029.6" y="422.9" font-size="10.6" text-anchor="end" fill="#1a1a1a" stroke="#1a1a1a" stroke-width="0.1" >-20</text>
<text x="1219.9" y="422.9" font-size="10.6" text-anchor="start" fill="#1a1a1a" stroke="#1a1a1a" stroke-width="0.1" >18</text>
<text x="1029.6" y="465.4" font-size="10.6" text-anchor="end" fill="#1a1a1a" stroke="#1a1a1a" stroke-width="0.1" >-25</text>
<text x="1219.9" y="465.4" font-size="10.6" text-anchor="start" fill="#1a1a1a" stroke="#1a1a1a" stroke-width="0.1" >13</text>
<text transform="translate(1000.3,376.5) rotate(-90)" font-size="11.2" text-anchor="middle" fill="#1a1a1a" stroke="#1a1a1a" stroke-width="0.1">10Log10(PV)</text>
<text transform="translate(1257.8,377.3) rotate(-90)" font-size="11.2" text-anchor="middle" fill="#1a1a1a" stroke="#1a1a1a" stroke-width="0.1">SNR (dB)</text>
<text x="1123.9" y="491.9" font-size="11.0" text-anchor="middle" fill="#1a1a1a" stroke="#1a1a1a" stroke-width="0.1" >Applied voltage (V)</text>
<rect x="1050" y="295.6" width="161.6" height="31.6" fill="#fff" stroke="#7d7d7d" stroke-width="0.6"/>
<line x1="1052.8" y1="304.5" x2="1070.3" y2="304.5" stroke="#cf6428" stroke-width="1.3"/>
<circle cx="1061.4" cy="304.5" r="2.5" fill="#cf6428"/>
<text x="1073.8" y="307.8" font-size="9.3" fill="#1a1a1a" textLength="48" lengthAdjust="spacingAndGlyphs">PV w/o code</text>
<line x1="1052.8" y1="319.1" x2="1070.3" y2="319.1" stroke="#1d78b6" stroke-width="1.3"/>
<rect x="1059.2" y="316.9" width="4.4" height="4.4" fill="#1d78b6"/>
<text x="1073.8" y="322.4" font-size="9.3" fill="#1a1a1a" textLength="40.5" lengthAdjust="spacingAndGlyphs">PV w code</text>
<line x1="1130.4" y1="304.5" x2="1147.9" y2="304.5" stroke="#b25ae2" stroke-width="1.3"/>
<path d="M1139,301.5 L1141.8,306.7 L1136.2,306.7 Z" fill="#b25ae2"/>
<text x="1151.4" y="307.8" font-size="9.3" fill="#1a1a1a" textLength="55.5" lengthAdjust="spacingAndGlyphs">SNR w/o code</text>
<line x1="1130.4" y1="319.1" x2="1147.9" y2="319.1" stroke="#7cae3a" stroke-width="1.3"/>
<path d="M1142,319.1 L1136.8,316.2 L1136.8,322 Z" fill="#7cae3a"/>
<text x="1151.4" y="322.4" font-size="9.3" fill="#1a1a1a" textLength="47.5" lengthAdjust="spacingAndGlyphs">SNR w code</text>
<path d="M1051.5,354 C1057.6,353.7 1075.9,352.7 1088.1,352.3 C1100.3,351.9 1112.5,351.6 1124.7,351.4 C1136.9,351.2 1149.1,351 1161.3,350.9 C1173.5,350.8 1191.8,350.8 1197.9,350.8" fill="none" stroke="#b25ae2" stroke-width="1.6"/>
<path d="M1051.5,368.6 C1057.6,368.8 1075.9,369.7 1088.1,370 C1100.3,370.3 1112.5,370.2 1124.7,370.3 C1136.9,370.4 1149.1,370.5 1161.3,370.5 C1173.5,370.5 1191.8,370.3 1197.9,370.3" fill="none" stroke="#7cae3a" stroke-width="1.6"/>
<path d="M1051.5,411.8 C1054.5,411.3 1063.7,409.5 1069.8,408.7 C1075.9,407.9 1082,407.3 1088.1,406.8 C1094.2,406.3 1100.3,405.9 1106.4,405.6 C1112.5,405.3 1115.6,405.1 1124.7,404.8 C1133.8,404.5 1149.1,404.1 1161.3,404 C1173.5,403.9 1191.8,404 1197.9,404" fill="none" stroke="#1d78b6" stroke-width="1.6"/>
<path d="M1051.5,423.8 C1057.6,423.3 1075.9,421.6 1088.1,420.6 C1100.3,419.6 1112.5,418.7 1124.7,418 C1136.9,417.3 1149.1,416.7 1161.3,416.2 C1173.5,415.7 1191.8,415.2 1197.9,415" fill="none" stroke="#cf6428" stroke-width="1.6"/>
<path d="M1051.5,350 L1054.9,356.2 L1048.1,356.2 Z" fill="#b25ae2"/>
<path d="M1069.8,348.7 L1073.2,354.9 L1066.4,354.9 Z" fill="#b25ae2"/>
<path d="M1088.1,346.9 L1091.5,353.1 L1084.7,353.1 Z" fill="#b25ae2"/>
<path d="M1106.4,348.7 L1109.8,354.9 L1103,354.9 Z" fill="#b25ae2"/>
<path d="M1124.7,347.3 L1128.1,353.5 L1121.3,353.5 Z" fill="#b25ae2"/>
<path d="M1143,347.8 L1146.4,354 L1139.6,354 Z" fill="#b25ae2"/>
<path d="M1161.3,345.1 L1164.7,351.3 L1157.9,351.3 Z" fill="#b25ae2"/>
<path d="M1179.6,347.3 L1183,353.5 L1176.2,353.5 Z" fill="#b25ae2"/>
<path d="M1197.9,347.3 L1201.3,353.5 L1194.5,353.5 Z" fill="#b25ae2"/>
<path d="M1055.1,368.4 L1048.9,365 L1048.9,371.8 Z" fill="#7cae3a"/>
<path d="M1073.4,369.7 L1067.2,366.3 L1067.2,373.1 Z" fill="#7cae3a"/>
<path d="M1091.7,371.5 L1085.5,368.1 L1085.5,374.9 Z" fill="#7cae3a"/>
<path d="M1110,368.8 L1103.8,365.4 L1103.8,372.2 Z" fill="#7cae3a"/>
<path d="M1128.3,370.6 L1122.1,367.2 L1122.1,374 Z" fill="#7cae3a"/>
<path d="M1146.6,370.2 L1140.4,366.8 L1140.4,373.6 Z" fill="#7cae3a"/>
<path d="M1164.9,370.6 L1158.7,367.2 L1158.7,374 Z" fill="#7cae3a"/>
<path d="M1183.2,370.6 L1177,367.2 L1177,374 Z" fill="#7cae3a"/>
<path d="M1201.5,370.2 L1195.3,366.8 L1195.3,373.6 Z" fill="#7cae3a"/>
<rect x="1049.2" y="411.3" width="4.6" height="4.6" fill="#1d78b6"/>
<rect x="1067.5" y="405.5" width="4.6" height="4.6" fill="#1d78b6"/>
<rect x="1085.8" y="403.2" width="4.6" height="4.6" fill="#1d78b6"/>
<rect x="1104.1" y="404.1" width="4.6" height="4.6" fill="#1d78b6"/>
<rect x="1122.4" y="402.8" width="4.6" height="4.6" fill="#1d78b6"/>
<rect x="1140.7" y="401.9" width="4.6" height="4.6" fill="#1d78b6"/>
<rect x="1159" y="401.9" width="4.6" height="4.6" fill="#1d78b6"/>
<rect x="1177.3" y="402.8" width="4.6" height="4.6" fill="#1d78b6"/>
<rect x="1195.6" y="401.4" width="4.6" height="4.6" fill="#1d78b6"/>
<circle cx="1051.5" cy="423.4" r="2.7" fill="#cf6428"/>
<circle cx="1069.8" cy="422.1" r="2.7" fill="#cf6428"/>
<circle cx="1088.1" cy="419.8" r="2.7" fill="#cf6428"/>
<circle cx="1106.4" cy="419.4" r="2.7" fill="#cf6428"/>
<circle cx="1124.7" cy="417.6" r="2.7" fill="#cf6428"/>
<circle cx="1143" cy="414" r="2.7" fill="#cf6428"/>
<circle cx="1161.3" cy="418.5" r="2.7" fill="#cf6428"/>
<circle cx="1179.6" cy="415.8" r="2.7" fill="#cf6428"/>
<circle cx="1197.9" cy="414.9" r="2.7" fill="#cf6428"/>
<path d="M1039.5,353.2 H1050 M1039.5,368.8 H1050" stroke="#333" stroke-width="0.8" stroke-dasharray="2,1.6" fill="none"/>
<line x1="1044.7" y1="354" x2="1044.7" y2="368" stroke="#222" stroke-width="0.8"/>
<path d="M1044.7,368 L1043.4,364.8 L1046,364.8 Z" fill="#222"/>
<path d="M1044.7,354 L1046,357.2 L1043.4,357.2 Z" fill="#222"/>
<text x="1044.5" y="385.2" font-size="9.3" text-anchor="start" fill="#1a1a1a" stroke="#1a1a1a" stroke-width="0.1" >~2.14 dB</text>
<ellipse cx="1198" cy="360.4" rx="6" ry="16.3" stroke="#333" stroke-width="0.8" stroke-dasharray="2,1.6" fill="none"/>
<path d="M1195.4,348 Q1197.4,344.8 1202,345" fill="none" stroke="#222" stroke-width="0.8"/>
<line x1="1201" y1="345" x2="1211" y2="345.4" stroke="#222" stroke-width="0.8"/>
<path d="M1211,345.4 L1207.8,346.5 L1207.9,344 Z" fill="#222"/>
<path d="M1201.5,404.5 H1210.6 M1201.5,413.8 H1210.6" stroke="#666" stroke-width="0.7" stroke-dasharray="2,1.6" fill="none"/>
<line x1="1204.9" y1="405" x2="1204.9" y2="413.4" stroke="#222" stroke-width="0.8"/>
<path d="M1204.9,413.4 L1203.9,410.8 L1205.9,410.8 Z" fill="#222"/>
<path d="M1204.9,405 L1205.9,407.6 L1203.9,407.6 Z" fill="#222"/>
<text x="1168" y="430.6" font-size="9.7" text-anchor="start" fill="#1a1a1a" stroke="#1a1a1a" stroke-width="0.1" >~1.25 dB</text>
<ellipse cx="1052" cy="418.6" rx="5.6" ry="11.4" stroke="#333" stroke-width="0.8" stroke-dasharray="2,1.6" fill="none"/>
<line x1="1051" y1="429.8" x2="1040.6" y2="429.8" stroke="#223" stroke-width="0.9"/>
<path d="M1040.6,429.8 L1043.8,428.5 L1043.8,431.1 Z" fill="#223"/>
<text class="ser" x="1042.5" y="452.5" font-size="15.5" fill="#111">(d)</text>
</svg>
</body></html>
